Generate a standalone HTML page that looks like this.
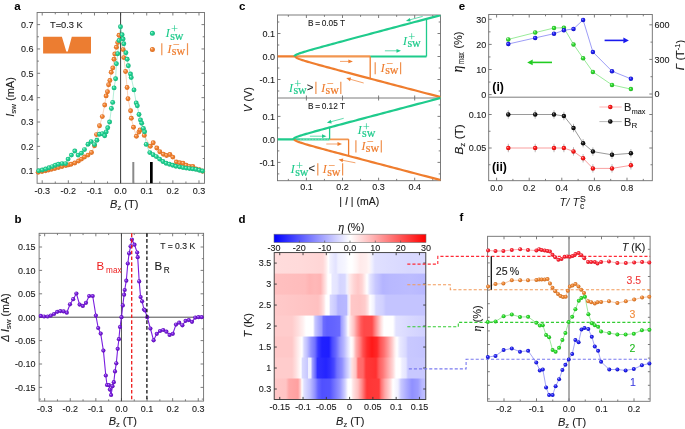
<!DOCTYPE html><html><head><meta charset="utf-8"><style>html,body{margin:0;padding:0;background:#fff;width:685px;height:429px;overflow:hidden}svg{display:block;font-family:"Liberation Sans",sans-serif;will-change:transform}.serif{font-family:"Liberation Serif",serif}</style></head><body>
<svg width="685" height="429" viewBox="0 0 685 429">
<defs>
<radialGradient id="gG" cx="0.5" cy="0.5" r="0.5" fx="0.33" fy="0.3"><stop offset="0" stop-color="#b8f7de"/><stop offset="0.45" stop-color="#22d494"/><stop offset="1" stop-color="#17b27a"/></radialGradient>
<radialGradient id="gO" cx="0.5" cy="0.5" r="0.5" fx="0.33" fy="0.3"><stop offset="0" stop-color="#fdd4b4"/><stop offset="0.45" stop-color="#f28434"/><stop offset="1" stop-color="#d96c20"/></radialGradient>
<radialGradient id="gP" cx="0.5" cy="0.5" r="0.5" fx="0.33" fy="0.3"><stop offset="0" stop-color="#c9a6f6"/><stop offset="0.45" stop-color="#7a1ee0"/><stop offset="1" stop-color="#5a0fb0"/></radialGradient>
<radialGradient id="eG" cx="0.5" cy="0.5" r="0.5" fx="0.33" fy="0.3"><stop offset="0" stop-color="#c0f8c0"/><stop offset="0.45" stop-color="#33dd33"/><stop offset="1" stop-color="#22b022"/></radialGradient>
<radialGradient id="eB" cx="0.5" cy="0.5" r="0.5" fx="0.33" fy="0.3"><stop offset="0" stop-color="#aaaaff"/><stop offset="0.45" stop-color="#2424f4"/><stop offset="1" stop-color="#1010c0"/></radialGradient>
<radialGradient id="eK" cx="0.5" cy="0.5" r="0.5" fx="0.33" fy="0.3"><stop offset="0" stop-color="#9a9a9a"/><stop offset="0.45" stop-color="#1a1a1a"/><stop offset="1" stop-color="#000000"/></radialGradient>
<radialGradient id="eR" cx="0.5" cy="0.5" r="0.5" fx="0.33" fy="0.3"><stop offset="0" stop-color="#ffb0b0"/><stop offset="0.45" stop-color="#ff1a1a"/><stop offset="1" stop-color="#d01010"/></radialGradient>
<radialGradient id="fR" cx="0.5" cy="0.5" r="0.5" fx="0.33" fy="0.3"><stop offset="0" stop-color="#ffc0c8"/><stop offset="0.45" stop-color="#ff2a36"/><stop offset="1" stop-color="#d81424"/></radialGradient>
<radialGradient id="fO" cx="0.5" cy="0.5" r="0.5" fx="0.33" fy="0.3"><stop offset="0" stop-color="#ffd0a8"/><stop offset="0.45" stop-color="#f08a3a"/><stop offset="1" stop-color="#c86a1e"/></radialGradient>
<radialGradient id="fG" cx="0.5" cy="0.5" r="0.5" fx="0.33" fy="0.3"><stop offset="0" stop-color="#b8ffb8"/><stop offset="0.45" stop-color="#2ee02e"/><stop offset="1" stop-color="#1fb01f"/></radialGradient>
<radialGradient id="fB" cx="0.5" cy="0.5" r="0.5" fx="0.33" fy="0.3"><stop offset="0" stop-color="#aaaaff"/><stop offset="0.45" stop-color="#2626f6"/><stop offset="1" stop-color="#1010c0"/></radialGradient>
<linearGradient id="hm0" gradientUnits="objectBoundingBox" x1="0" y1="0" x2="1" y2="0"><stop offset="-0.0013" stop-color="#ffdcdc"/><stop offset="0.1702" stop-color="#ffdada"/><stop offset="0.3021" stop-color="#ffd6d6"/><stop offset="0.3219" stop-color="#ffd8d8"/><stop offset="0.3417" stop-color="#ffeaea"/><stop offset="0.3575" stop-color="#ffffff"/><stop offset="0.3681" stop-color="#f2f2ff"/><stop offset="0.3945" stop-color="#e6e6ff"/><stop offset="0.4077" stop-color="#e2e2ff"/><stop offset="0.4208" stop-color="#f0f0ff"/><stop offset="0.4670" stop-color="#f6f6ff"/><stop offset="0.4934" stop-color="#ffffff"/><stop offset="0.5132" stop-color="#ffffff"/><stop offset="0.5442" stop-color="#fff4f4"/><stop offset="0.5660" stop-color="#ffeaea"/><stop offset="0.6055" stop-color="#ffeeee"/><stop offset="0.6253" stop-color="#fff6f6"/><stop offset="0.6451" stop-color="#f0f0ff"/><stop offset="0.6649" stop-color="#e0e0ff"/><stop offset="0.7639" stop-color="#dcdcff"/><stop offset="0.8958" stop-color="#d8d8ff"/><stop offset="1.0013" stop-color="#dadaff"/></linearGradient><linearGradient id="hm1" gradientUnits="objectBoundingBox" x1="0" y1="0" x2="1" y2="0"><stop offset="-0.0013" stop-color="#ffc0c0"/><stop offset="0.2032" stop-color="#ffbcbc"/><stop offset="0.2328" stop-color="#ffb4b4"/><stop offset="0.2691" stop-color="#ffb8b8"/><stop offset="0.3061" stop-color="#ffb4b4"/><stop offset="0.3219" stop-color="#ffcccc"/><stop offset="0.3417" stop-color="#ffe8e8"/><stop offset="0.3549" stop-color="#ffffff"/><stop offset="0.3747" stop-color="#ffffff"/><stop offset="0.3813" stop-color="#e8e8ff"/><stop offset="0.4142" stop-color="#e4e4ff"/><stop offset="0.4340" stop-color="#d4d4ff"/><stop offset="0.4670" stop-color="#d8d8ff"/><stop offset="0.4802" stop-color="#f0f0ff"/><stop offset="0.5000" stop-color="#ffe8e8"/><stop offset="0.5264" stop-color="#ffd4d4"/><stop offset="0.5528" stop-color="#ffc8c8"/><stop offset="0.5792" stop-color="#ffd4d4"/><stop offset="0.5989" stop-color="#ffeeee"/><stop offset="0.6121" stop-color="#ffffff"/><stop offset="0.6319" stop-color="#e4e4ff"/><stop offset="0.6682" stop-color="#c8c8ff"/><stop offset="0.7177" stop-color="#b4b4ff"/><stop offset="0.7639" stop-color="#b8b8ff"/><stop offset="0.8958" stop-color="#bcbcff"/><stop offset="1.0013" stop-color="#b8b8ff"/></linearGradient><linearGradient id="hm2" gradientUnits="objectBoundingBox" x1="0" y1="0" x2="1" y2="0"><stop offset="-0.0013" stop-color="#ffcaca"/><stop offset="0.2032" stop-color="#ffc4c4"/><stop offset="0.2889" stop-color="#ffc0c0"/><stop offset="0.3087" stop-color="#ffcccc"/><stop offset="0.3285" stop-color="#ffe4e4"/><stop offset="0.3417" stop-color="#ffffff"/><stop offset="0.3615" stop-color="#ffffff"/><stop offset="0.3714" stop-color="#d8d8ff"/><stop offset="0.4077" stop-color="#c8c8ff"/><stop offset="0.4208" stop-color="#b4b4ff"/><stop offset="0.4769" stop-color="#b8b8ff"/><stop offset="0.4868" stop-color="#e8e8ff"/><stop offset="0.5000" stop-color="#fff0f0"/><stop offset="0.5066" stop-color="#ffc8c8"/><stop offset="0.5660" stop-color="#ffc4c4"/><stop offset="0.5989" stop-color="#ffcccc"/><stop offset="0.6187" stop-color="#ffe4e4"/><stop offset="0.6319" stop-color="#ffffff"/><stop offset="0.6583" stop-color="#f0f0ff"/><stop offset="0.6715" stop-color="#d8d8ff"/><stop offset="0.7177" stop-color="#d0d0ff"/><stop offset="0.7375" stop-color="#c4c4ff"/><stop offset="1.0013" stop-color="#c4c4ff"/></linearGradient><linearGradient id="hm3" gradientUnits="objectBoundingBox" x1="0" y1="0" x2="1" y2="0"><stop offset="-0.0013" stop-color="#ffcccc"/><stop offset="0.1174" stop-color="#ffcccc"/><stop offset="0.1570" stop-color="#ffdede"/><stop offset="0.1900" stop-color="#fff0f0"/><stop offset="0.2098" stop-color="#ffffff"/><stop offset="0.2559" stop-color="#ffffff"/><stop offset="0.2691" stop-color="#c8c8ff"/><stop offset="0.2889" stop-color="#b0b0ff"/><stop offset="0.3120" stop-color="#9898ff"/><stop offset="0.3252" stop-color="#6c6cff"/><stop offset="0.3483" stop-color="#6060ff"/><stop offset="0.3945" stop-color="#6464ff"/><stop offset="0.4307" stop-color="#6a6aff"/><stop offset="0.4439" stop-color="#a0a0ff"/><stop offset="0.4670" stop-color="#c8c8ff"/><stop offset="0.4802" stop-color="#e8e8ff"/><stop offset="0.4868" stop-color="#ffffff"/><stop offset="0.5000" stop-color="#ffe8e8"/><stop offset="0.5264" stop-color="#ffc0c0"/><stop offset="0.5462" stop-color="#ff9090"/><stop offset="0.5726" stop-color="#ff5a5a"/><stop offset="0.5923" stop-color="#ff4848"/><stop offset="0.6451" stop-color="#ff4a4a"/><stop offset="0.6649" stop-color="#ff8080"/><stop offset="0.6847" stop-color="#ffb0b0"/><stop offset="0.7045" stop-color="#ffdede"/><stop offset="0.7243" stop-color="#ffffff"/><stop offset="0.7836" stop-color="#ffffff"/><stop offset="0.8034" stop-color="#e2e2ff"/><stop offset="0.8958" stop-color="#d8d8ff"/><stop offset="1.0013" stop-color="#d0d0ff"/></linearGradient><linearGradient id="hm4" gradientUnits="objectBoundingBox" x1="0" y1="0" x2="1" y2="0"><stop offset="-0.0013" stop-color="#ffc8c8"/><stop offset="0.1174" stop-color="#ffc8c8"/><stop offset="0.1438" stop-color="#ffe0e0"/><stop offset="0.1702" stop-color="#fff6f6"/><stop offset="0.1834" stop-color="#ffffff"/><stop offset="0.1966" stop-color="#d8d8ff"/><stop offset="0.2164" stop-color="#c0c0ff"/><stop offset="0.2427" stop-color="#9090ff"/><stop offset="0.2691" stop-color="#7070ff"/><stop offset="0.2889" stop-color="#3838ff"/><stop offset="0.3153" stop-color="#2020ff"/><stop offset="0.3615" stop-color="#1e1eff"/><stop offset="0.3813" stop-color="#4848ff"/><stop offset="0.4077" stop-color="#6868ff"/><stop offset="0.4340" stop-color="#9898ff"/><stop offset="0.4604" stop-color="#b8b8ff"/><stop offset="0.4868" stop-color="#e4e4ff"/><stop offset="0.5066" stop-color="#ffffff"/><stop offset="0.5198" stop-color="#fff0f0"/><stop offset="0.5396" stop-color="#ffb0b0"/><stop offset="0.5660" stop-color="#ff8080"/><stop offset="0.5858" stop-color="#ff5050"/><stop offset="0.6121" stop-color="#ff2c2c"/><stop offset="0.6451" stop-color="#ff1818"/><stop offset="0.6781" stop-color="#ff2828"/><stop offset="0.6979" stop-color="#ff5050"/><stop offset="0.7243" stop-color="#ff7070"/><stop offset="0.7507" stop-color="#ff9a9a"/><stop offset="0.7770" stop-color="#ffc8c8"/><stop offset="0.7968" stop-color="#fff0f0"/><stop offset="0.8100" stop-color="#ffffff"/><stop offset="0.8298" stop-color="#e8e8ff"/><stop offset="0.8694" stop-color="#d8d8ff"/><stop offset="0.8826" stop-color="#c8c8ff"/><stop offset="1.0013" stop-color="#c4c4ff"/></linearGradient><linearGradient id="hm5" gradientUnits="objectBoundingBox" x1="0" y1="0" x2="1" y2="0"><stop offset="-0.0013" stop-color="#ffcccc"/><stop offset="0.1174" stop-color="#ffcccc"/><stop offset="0.1438" stop-color="#ffe0e0"/><stop offset="0.1768" stop-color="#ffffff"/><stop offset="0.1867" stop-color="#d8d8ff"/><stop offset="0.2197" stop-color="#c8c8ff"/><stop offset="0.2263" stop-color="#f0f0ff"/><stop offset="0.2427" stop-color="#f0f0ff"/><stop offset="0.2493" stop-color="#a8a8ff"/><stop offset="0.2724" stop-color="#6868ff"/><stop offset="0.2856" stop-color="#3030ff"/><stop offset="0.3417" stop-color="#2424ff"/><stop offset="0.3681" stop-color="#3030ff"/><stop offset="0.3945" stop-color="#4848ff"/><stop offset="0.4142" stop-color="#7070ff"/><stop offset="0.4472" stop-color="#9090ff"/><stop offset="0.4736" stop-color="#c0c0ff"/><stop offset="0.5000" stop-color="#e8e8ff"/><stop offset="0.5132" stop-color="#ffe0e0"/><stop offset="0.5396" stop-color="#ffc0c0"/><stop offset="0.5528" stop-color="#ff7070"/><stop offset="0.5858" stop-color="#ff6868"/><stop offset="0.6055" stop-color="#ff3838"/><stop offset="0.6715" stop-color="#ff3030"/><stop offset="0.6913" stop-color="#ff5c5c"/><stop offset="0.7177" stop-color="#ff7878"/><stop offset="0.7441" stop-color="#ffa0a0"/><stop offset="0.7836" stop-color="#ffd8d8"/><stop offset="0.8034" stop-color="#ffffff"/><stop offset="0.8298" stop-color="#ffffff"/><stop offset="0.8430" stop-color="#eeeeff"/><stop offset="0.8694" stop-color="#e4e4ff"/><stop offset="0.8826" stop-color="#c8c8ff"/><stop offset="1.0013" stop-color="#c8c8ff"/></linearGradient><linearGradient id="hm6" gradientUnits="objectBoundingBox" x1="0" y1="0" x2="1" y2="0"><stop offset="-0.0013" stop-color="#ffc8c8"/><stop offset="0.0778" stop-color="#ffc4c4"/><stop offset="0.0976" stop-color="#ffa8a8"/><stop offset="0.1570" stop-color="#ffa0a0"/><stop offset="0.1735" stop-color="#ffd0d0"/><stop offset="0.1834" stop-color="#ffffff"/><stop offset="0.1966" stop-color="#e0e0ff"/><stop offset="0.2361" stop-color="#c0c0ff"/><stop offset="0.2691" stop-color="#9090ff"/><stop offset="0.2889" stop-color="#6464ff"/><stop offset="0.3153" stop-color="#5050ff"/><stop offset="0.3681" stop-color="#5454ff"/><stop offset="0.3945" stop-color="#7070ff"/><stop offset="0.4340" stop-color="#9898ff"/><stop offset="0.4670" stop-color="#d0d0ff"/><stop offset="0.4868" stop-color="#ffffff"/><stop offset="0.5066" stop-color="#ffffff"/><stop offset="0.5198" stop-color="#ffe4e4"/><stop offset="0.5528" stop-color="#ffc0c0"/><stop offset="0.5792" stop-color="#ff8888"/><stop offset="0.6022" stop-color="#ff4c4c"/><stop offset="0.6121" stop-color="#ff3636"/><stop offset="0.6913" stop-color="#ff3a3a"/><stop offset="0.7045" stop-color="#ff7070"/><stop offset="0.7309" stop-color="#ffa8a8"/><stop offset="0.7639" stop-color="#ffd8d8"/><stop offset="0.7836" stop-color="#ffffff"/><stop offset="0.8166" stop-color="#f0f0ff"/><stop offset="0.8364" stop-color="#c8c8ff"/><stop offset="0.8760" stop-color="#a8a8ff"/><stop offset="0.9090" stop-color="#9090ff"/><stop offset="0.9485" stop-color="#9c9cff"/><stop offset="0.9749" stop-color="#b8b8ff"/><stop offset="1.0013" stop-color="#c0c0ff"/></linearGradient><linearGradient id="cbar" x1="0" y1="0" x2="1" y2="0"><stop offset="0" stop-color="#0000ff"/><stop offset="0.5" stop-color="#ffffff"/><stop offset="1" stop-color="#ff0000"/></linearGradient>
</defs>
<rect width="685" height="429" fill="#fff"/>
<text x="14.2" y="10.4" font-size="11.5" font-weight="bold" fill="#000">a</text>
<rect x="37.1" y="12.5" width="167.4" height="170.8" fill="none" stroke="#6e6e6e" stroke-width="0.9" />
<line x1="42.21" y1="183.3" x2="42.21" y2="180.3" stroke="#6e6e6e" stroke-width="0.9" />
<line x1="42.21" y1="12.5" x2="42.21" y2="15.5" stroke="#6e6e6e" stroke-width="0.9" />
<line x1="68.34" y1="183.3" x2="68.34" y2="180.3" stroke="#6e6e6e" stroke-width="0.9" />
<line x1="68.34" y1="12.5" x2="68.34" y2="15.5" stroke="#6e6e6e" stroke-width="0.9" />
<line x1="94.47" y1="183.3" x2="94.47" y2="180.3" stroke="#6e6e6e" stroke-width="0.9" />
<line x1="94.47" y1="12.5" x2="94.47" y2="15.5" stroke="#6e6e6e" stroke-width="0.9" />
<line x1="120.6" y1="183.3" x2="120.6" y2="180.3" stroke="#6e6e6e" stroke-width="0.9" />
<line x1="120.6" y1="12.5" x2="120.6" y2="15.5" stroke="#6e6e6e" stroke-width="0.9" />
<line x1="146.73" y1="183.3" x2="146.73" y2="180.3" stroke="#6e6e6e" stroke-width="0.9" />
<line x1="146.73" y1="12.5" x2="146.73" y2="15.5" stroke="#6e6e6e" stroke-width="0.9" />
<line x1="172.86" y1="183.3" x2="172.86" y2="180.3" stroke="#6e6e6e" stroke-width="0.9" />
<line x1="172.86" y1="12.5" x2="172.86" y2="15.5" stroke="#6e6e6e" stroke-width="0.9" />
<line x1="198.99" y1="183.3" x2="198.99" y2="180.3" stroke="#6e6e6e" stroke-width="0.9" />
<line x1="198.99" y1="12.5" x2="198.99" y2="15.5" stroke="#6e6e6e" stroke-width="0.9" />
<line x1="55.27" y1="183.3" x2="55.27" y2="181.5" stroke="#6e6e6e" stroke-width="0.9" />
<line x1="55.27" y1="12.5" x2="55.27" y2="14.3" stroke="#6e6e6e" stroke-width="0.9" />
<line x1="81.41" y1="183.3" x2="81.41" y2="181.5" stroke="#6e6e6e" stroke-width="0.9" />
<line x1="81.41" y1="12.5" x2="81.41" y2="14.3" stroke="#6e6e6e" stroke-width="0.9" />
<line x1="107.53" y1="183.3" x2="107.53" y2="181.5" stroke="#6e6e6e" stroke-width="0.9" />
<line x1="107.53" y1="12.5" x2="107.53" y2="14.3" stroke="#6e6e6e" stroke-width="0.9" />
<line x1="133.66" y1="183.3" x2="133.66" y2="181.5" stroke="#6e6e6e" stroke-width="0.9" />
<line x1="133.66" y1="12.5" x2="133.66" y2="14.3" stroke="#6e6e6e" stroke-width="0.9" />
<line x1="159.79" y1="183.3" x2="159.79" y2="181.5" stroke="#6e6e6e" stroke-width="0.9" />
<line x1="159.79" y1="12.5" x2="159.79" y2="14.3" stroke="#6e6e6e" stroke-width="0.9" />
<line x1="185.93" y1="183.3" x2="185.93" y2="181.5" stroke="#6e6e6e" stroke-width="0.9" />
<line x1="185.93" y1="12.5" x2="185.93" y2="14.3" stroke="#6e6e6e" stroke-width="0.9" />
<line x1="37.1" y1="170.7" x2="40.1" y2="170.7" stroke="#6e6e6e" stroke-width="0.9" />
<line x1="204.5" y1="170.7" x2="201.5" y2="170.7" stroke="#6e6e6e" stroke-width="0.9" />
<line x1="37.1" y1="146.35" x2="40.1" y2="146.35" stroke="#6e6e6e" stroke-width="0.9" />
<line x1="204.5" y1="146.35" x2="201.5" y2="146.35" stroke="#6e6e6e" stroke-width="0.9" />
<line x1="37.1" y1="122" x2="40.1" y2="122" stroke="#6e6e6e" stroke-width="0.9" />
<line x1="204.5" y1="122" x2="201.5" y2="122" stroke="#6e6e6e" stroke-width="0.9" />
<line x1="37.1" y1="97.65" x2="40.1" y2="97.65" stroke="#6e6e6e" stroke-width="0.9" />
<line x1="204.5" y1="97.65" x2="201.5" y2="97.65" stroke="#6e6e6e" stroke-width="0.9" />
<line x1="37.1" y1="73.3" x2="40.1" y2="73.3" stroke="#6e6e6e" stroke-width="0.9" />
<line x1="204.5" y1="73.3" x2="201.5" y2="73.3" stroke="#6e6e6e" stroke-width="0.9" />
<line x1="37.1" y1="48.95" x2="40.1" y2="48.95" stroke="#6e6e6e" stroke-width="0.9" />
<line x1="204.5" y1="48.95" x2="201.5" y2="48.95" stroke="#6e6e6e" stroke-width="0.9" />
<line x1="37.1" y1="24.6" x2="40.1" y2="24.6" stroke="#6e6e6e" stroke-width="0.9" />
<line x1="204.5" y1="24.6" x2="201.5" y2="24.6" stroke="#6e6e6e" stroke-width="0.9" />
<line x1="37.1" y1="158.52" x2="38.9" y2="158.52" stroke="#6e6e6e" stroke-width="0.9" />
<line x1="204.5" y1="158.52" x2="202.7" y2="158.52" stroke="#6e6e6e" stroke-width="0.9" />
<line x1="37.1" y1="134.17" x2="38.9" y2="134.17" stroke="#6e6e6e" stroke-width="0.9" />
<line x1="204.5" y1="134.17" x2="202.7" y2="134.17" stroke="#6e6e6e" stroke-width="0.9" />
<line x1="37.1" y1="109.82" x2="38.9" y2="109.82" stroke="#6e6e6e" stroke-width="0.9" />
<line x1="204.5" y1="109.82" x2="202.7" y2="109.82" stroke="#6e6e6e" stroke-width="0.9" />
<line x1="37.1" y1="85.47" x2="38.9" y2="85.47" stroke="#6e6e6e" stroke-width="0.9" />
<line x1="204.5" y1="85.47" x2="202.7" y2="85.47" stroke="#6e6e6e" stroke-width="0.9" />
<line x1="37.1" y1="61.12" x2="38.9" y2="61.12" stroke="#6e6e6e" stroke-width="0.9" />
<line x1="204.5" y1="61.12" x2="202.7" y2="61.12" stroke="#6e6e6e" stroke-width="0.9" />
<line x1="37.1" y1="36.77" x2="38.9" y2="36.77" stroke="#6e6e6e" stroke-width="0.9" />
<line x1="204.5" y1="36.77" x2="202.7" y2="36.77" stroke="#6e6e6e" stroke-width="0.9" />
<text x="33.6" y="174" font-size="9.0" text-anchor="end" fill="#1a1a1a" stroke="#1a1a1a" stroke-width="0.1" >0.1</text>
<text x="33.6" y="149.65" font-size="9.0" text-anchor="end" fill="#1a1a1a" stroke="#1a1a1a" stroke-width="0.1" >0.2</text>
<text x="33.6" y="125.3" font-size="9.0" text-anchor="end" fill="#1a1a1a" stroke="#1a1a1a" stroke-width="0.1" >0.3</text>
<text x="33.6" y="100.95" font-size="9.0" text-anchor="end" fill="#1a1a1a" stroke="#1a1a1a" stroke-width="0.1" >0.4</text>
<text x="33.6" y="76.6" font-size="9.0" text-anchor="end" fill="#1a1a1a" stroke="#1a1a1a" stroke-width="0.1" >0.5</text>
<text x="33.6" y="52.25" font-size="9.0" text-anchor="end" fill="#1a1a1a" stroke="#1a1a1a" stroke-width="0.1" >0.6</text>
<text x="33.6" y="27.9" font-size="9.0" text-anchor="end" fill="#1a1a1a" stroke="#1a1a1a" stroke-width="0.1" >0.7</text>
<text x="42.21" y="193.8" font-size="9.0" text-anchor="middle" fill="#1a1a1a" stroke="#1a1a1a" stroke-width="0.1" >-0.3</text>
<text x="68.34" y="193.8" font-size="9.0" text-anchor="middle" fill="#1a1a1a" stroke="#1a1a1a" stroke-width="0.1" >-0.2</text>
<text x="94.47" y="193.8" font-size="9.0" text-anchor="middle" fill="#1a1a1a" stroke="#1a1a1a" stroke-width="0.1" >-0.1</text>
<text x="120.6" y="193.8" font-size="9.0" text-anchor="middle" fill="#1a1a1a" stroke="#1a1a1a" stroke-width="0.1" >0.0</text>
<text x="146.73" y="193.8" font-size="9.0" text-anchor="middle" fill="#1a1a1a" stroke="#1a1a1a" stroke-width="0.1" >0.1</text>
<text x="172.86" y="193.8" font-size="9.0" text-anchor="middle" fill="#1a1a1a" stroke="#1a1a1a" stroke-width="0.1" >0.2</text>
<text x="198.99" y="193.8" font-size="9.0" text-anchor="middle" fill="#1a1a1a" stroke="#1a1a1a" stroke-width="0.1" >0.3</text>
<line x1="120.6" y1="12.5" x2="120.6" y2="183.3" stroke="#3a3a3a" stroke-width="1.0" />
<polygon points="43.1,36.8 61.9,36.8 66.3,51.4 67.8,51.4 71.8,36.8 91,36.8 91,53.5 43.1,53.5" fill="#ec7d31"/>
<text x="50" y="27.8" font-size="9.3" text-anchor="start" fill="#1a1a1a" stroke="#1a1a1a" stroke-width="0.1" >T=0.3 K</text>
<rect x="132.3" y="162" width="2" height="21.2" fill="#8a8a8a" stroke="none" stroke-width="0" />
<rect x="150" y="162" width="2.7" height="21.2" fill="#000" stroke="none" stroke-width="0" />
<polyline points="38.7,170.8 42.3,170 45.7,169 49.1,167.8 52.4,166.6 55.4,165.2 58.4,164.2 62.1,163.6 65.6,163.6 68.1,159.1 71.4,155.1 74.8,151 78.1,155.1 81.5,153.1 84.5,149.6 88,144.2 91.2,141.6 94.5,144.6 96.9,140.2 99.5,134.2 102.4,133.7 104.7,135.7 106.2,131.9 107.7,127.8 109.6,122 111.4,108.5 112.7,102.4 114.1,87.9 115.6,78.8 116.4,63.8 117.7,53.7 119,40.5 120.5,26.8 122.1,34.8 123.1,38.9 123.8,43.8 125.9,52.7 127.2,59.3 128.3,65.8 130.5,74 131.2,77.5 134,89.9 136.2,102.9 137.3,105.7 139,114.5 140.5,119.9 141.7,123.2 143.4,128.4 144.6,131.8 146.2,144.4 149.8,152.6 153.1,154.7 156.3,156.6 159.6,159.1 162.9,161.5 166.1,163.2 169.4,164.3 172.7,165.3 175.9,166.3 179.7,166.9 183,167.6 186.2,168.1 189.5,168.6 192.8,168.9 196,169.4 199.3,170.2 202.6,171" fill="none" stroke="#7fe3bd" stroke-width="0.6" stroke-linejoin="round" />
<polyline points="38.2,172.3 42,171.5 45.5,170.8 48.5,170 51.5,169.3 54.8,168.5 58.4,167.5 62,166.5 65.9,165.5 68.5,164.9 71.1,164.2 74.8,163 78.5,161 81.5,159.1 84.5,157 88,155.1 91.5,152.5 94.5,145.7 96.5,134.6 99.5,125.7 102.3,116.6 104.7,105 106.1,95.9 107.5,91.7 108.6,84.7 109.9,80.5 111.2,72.3 112.8,67.9 114,59.3 114.8,54 116.4,47.2 117.7,42.6 119,35.3 123.1,49.6 123.8,57.6 125.6,71.5 127.1,87.5 128,98.7 130.6,110.8 131.3,118.3 133.5,127.2 136.4,136.2 138.9,132.1 140,130 144.3,135.4 150.3,146.3 153.2,142.8 156.8,148 159.8,151.7 163.4,154.2 166.6,155.5 169.9,154.5 172.8,157.1 176.4,162 179.7,162.8 183,163.2 186.2,165.3 189.5,166.4 192.8,166.4 196,168.9 199.3,169.7 202.6,171.3" fill="none" stroke="#f6b891" stroke-width="0.6" stroke-linejoin="round" />
<circle cx="38.2" cy="172.3" r="2.45" fill="url(#gO)"/>
<circle cx="42" cy="171.5" r="2.45" fill="url(#gO)"/>
<circle cx="45.5" cy="170.8" r="2.45" fill="url(#gO)"/>
<circle cx="48.5" cy="170" r="2.45" fill="url(#gO)"/>
<circle cx="51.5" cy="169.3" r="2.45" fill="url(#gO)"/>
<circle cx="54.8" cy="168.5" r="2.45" fill="url(#gO)"/>
<circle cx="58.4" cy="167.5" r="2.45" fill="url(#gO)"/>
<circle cx="62" cy="166.5" r="2.45" fill="url(#gO)"/>
<circle cx="65.9" cy="165.5" r="2.45" fill="url(#gO)"/>
<circle cx="68.5" cy="164.9" r="2.45" fill="url(#gO)"/>
<circle cx="71.1" cy="164.2" r="2.45" fill="url(#gO)"/>
<circle cx="74.8" cy="163" r="2.45" fill="url(#gO)"/>
<circle cx="78.5" cy="161" r="2.45" fill="url(#gO)"/>
<circle cx="81.5" cy="159.1" r="2.45" fill="url(#gO)"/>
<circle cx="84.5" cy="157" r="2.45" fill="url(#gO)"/>
<circle cx="88" cy="155.1" r="2.45" fill="url(#gO)"/>
<circle cx="91.5" cy="152.5" r="2.45" fill="url(#gO)"/>
<circle cx="94.5" cy="145.7" r="2.45" fill="url(#gO)"/>
<circle cx="96.5" cy="134.6" r="2.45" fill="url(#gO)"/>
<circle cx="99.5" cy="125.7" r="2.45" fill="url(#gO)"/>
<circle cx="102.3" cy="116.6" r="2.45" fill="url(#gO)"/>
<circle cx="104.7" cy="105" r="2.45" fill="url(#gO)"/>
<circle cx="106.1" cy="95.9" r="2.45" fill="url(#gO)"/>
<circle cx="107.5" cy="91.7" r="2.45" fill="url(#gO)"/>
<circle cx="108.6" cy="84.7" r="2.45" fill="url(#gO)"/>
<circle cx="109.9" cy="80.5" r="2.45" fill="url(#gO)"/>
<circle cx="111.2" cy="72.3" r="2.45" fill="url(#gO)"/>
<circle cx="112.8" cy="67.9" r="2.45" fill="url(#gO)"/>
<circle cx="114" cy="59.3" r="2.45" fill="url(#gO)"/>
<circle cx="114.8" cy="54" r="2.45" fill="url(#gO)"/>
<circle cx="116.4" cy="47.2" r="2.45" fill="url(#gO)"/>
<circle cx="117.7" cy="42.6" r="2.45" fill="url(#gO)"/>
<circle cx="119" cy="35.3" r="2.45" fill="url(#gO)"/>
<circle cx="123.1" cy="49.6" r="2.45" fill="url(#gO)"/>
<circle cx="123.8" cy="57.6" r="2.45" fill="url(#gO)"/>
<circle cx="125.6" cy="71.5" r="2.45" fill="url(#gO)"/>
<circle cx="127.1" cy="87.5" r="2.45" fill="url(#gO)"/>
<circle cx="128" cy="98.7" r="2.45" fill="url(#gO)"/>
<circle cx="130.6" cy="110.8" r="2.45" fill="url(#gO)"/>
<circle cx="131.3" cy="118.3" r="2.45" fill="url(#gO)"/>
<circle cx="133.5" cy="127.2" r="2.45" fill="url(#gO)"/>
<circle cx="136.4" cy="136.2" r="2.45" fill="url(#gO)"/>
<circle cx="138.9" cy="132.1" r="2.45" fill="url(#gO)"/>
<circle cx="140" cy="130" r="2.45" fill="url(#gO)"/>
<circle cx="144.3" cy="135.4" r="2.45" fill="url(#gO)"/>
<circle cx="150.3" cy="146.3" r="2.45" fill="url(#gO)"/>
<circle cx="153.2" cy="142.8" r="2.45" fill="url(#gO)"/>
<circle cx="156.8" cy="148" r="2.45" fill="url(#gO)"/>
<circle cx="159.8" cy="151.7" r="2.45" fill="url(#gO)"/>
<circle cx="163.4" cy="154.2" r="2.45" fill="url(#gO)"/>
<circle cx="166.6" cy="155.5" r="2.45" fill="url(#gO)"/>
<circle cx="169.9" cy="154.5" r="2.45" fill="url(#gO)"/>
<circle cx="172.8" cy="157.1" r="2.45" fill="url(#gO)"/>
<circle cx="176.4" cy="162" r="2.45" fill="url(#gO)"/>
<circle cx="179.7" cy="162.8" r="2.45" fill="url(#gO)"/>
<circle cx="183" cy="163.2" r="2.45" fill="url(#gO)"/>
<circle cx="186.2" cy="165.3" r="2.45" fill="url(#gO)"/>
<circle cx="189.5" cy="166.4" r="2.45" fill="url(#gO)"/>
<circle cx="192.8" cy="166.4" r="2.45" fill="url(#gO)"/>
<circle cx="196" cy="168.9" r="2.45" fill="url(#gO)"/>
<circle cx="199.3" cy="169.7" r="2.45" fill="url(#gO)"/>
<circle cx="202.6" cy="171.3" r="2.45" fill="url(#gO)"/>
<circle cx="38.7" cy="170.8" r="2.45" fill="url(#gG)"/>
<circle cx="42.3" cy="170" r="2.45" fill="url(#gG)"/>
<circle cx="45.7" cy="169" r="2.45" fill="url(#gG)"/>
<circle cx="49.1" cy="167.8" r="2.45" fill="url(#gG)"/>
<circle cx="52.4" cy="166.6" r="2.45" fill="url(#gG)"/>
<circle cx="55.4" cy="165.2" r="2.45" fill="url(#gG)"/>
<circle cx="58.4" cy="164.2" r="2.45" fill="url(#gG)"/>
<circle cx="62.1" cy="163.6" r="2.45" fill="url(#gG)"/>
<circle cx="65.6" cy="163.6" r="2.45" fill="url(#gG)"/>
<circle cx="68.1" cy="159.1" r="2.45" fill="url(#gG)"/>
<circle cx="71.4" cy="155.1" r="2.45" fill="url(#gG)"/>
<circle cx="74.8" cy="151" r="2.45" fill="url(#gG)"/>
<circle cx="78.1" cy="155.1" r="2.45" fill="url(#gG)"/>
<circle cx="81.5" cy="153.1" r="2.45" fill="url(#gG)"/>
<circle cx="84.5" cy="149.6" r="2.45" fill="url(#gG)"/>
<circle cx="88" cy="144.2" r="2.45" fill="url(#gG)"/>
<circle cx="91.2" cy="141.6" r="2.45" fill="url(#gG)"/>
<circle cx="94.5" cy="144.6" r="2.45" fill="url(#gG)"/>
<circle cx="96.9" cy="140.2" r="2.45" fill="url(#gG)"/>
<circle cx="99.5" cy="134.2" r="2.45" fill="url(#gG)"/>
<circle cx="102.4" cy="133.7" r="2.45" fill="url(#gG)"/>
<circle cx="104.7" cy="135.7" r="2.45" fill="url(#gG)"/>
<circle cx="106.2" cy="131.9" r="2.45" fill="url(#gG)"/>
<circle cx="107.7" cy="127.8" r="2.45" fill="url(#gG)"/>
<circle cx="109.6" cy="122" r="2.45" fill="url(#gG)"/>
<circle cx="111.4" cy="108.5" r="2.45" fill="url(#gG)"/>
<circle cx="112.7" cy="102.4" r="2.45" fill="url(#gG)"/>
<circle cx="114.1" cy="87.9" r="2.45" fill="url(#gG)"/>
<circle cx="115.6" cy="78.8" r="2.45" fill="url(#gG)"/>
<circle cx="116.4" cy="63.8" r="2.45" fill="url(#gG)"/>
<circle cx="117.7" cy="53.7" r="2.45" fill="url(#gG)"/>
<circle cx="119" cy="40.5" r="2.45" fill="url(#gG)"/>
<circle cx="120.5" cy="26.8" r="2.45" fill="url(#gG)"/>
<circle cx="122.1" cy="34.8" r="2.45" fill="url(#gG)"/>
<circle cx="123.1" cy="38.9" r="2.45" fill="url(#gG)"/>
<circle cx="123.8" cy="43.8" r="2.45" fill="url(#gG)"/>
<circle cx="125.9" cy="52.7" r="2.45" fill="url(#gG)"/>
<circle cx="127.2" cy="59.3" r="2.45" fill="url(#gG)"/>
<circle cx="128.3" cy="65.8" r="2.45" fill="url(#gG)"/>
<circle cx="130.5" cy="74" r="2.45" fill="url(#gG)"/>
<circle cx="131.2" cy="77.5" r="2.45" fill="url(#gG)"/>
<circle cx="134" cy="89.9" r="2.45" fill="url(#gG)"/>
<circle cx="136.2" cy="102.9" r="2.45" fill="url(#gG)"/>
<circle cx="137.3" cy="105.7" r="2.45" fill="url(#gG)"/>
<circle cx="139" cy="114.5" r="2.45" fill="url(#gG)"/>
<circle cx="140.5" cy="119.9" r="2.45" fill="url(#gG)"/>
<circle cx="141.7" cy="123.2" r="2.45" fill="url(#gG)"/>
<circle cx="143.4" cy="128.4" r="2.45" fill="url(#gG)"/>
<circle cx="144.6" cy="131.8" r="2.45" fill="url(#gG)"/>
<circle cx="146.2" cy="144.4" r="2.45" fill="url(#gG)"/>
<circle cx="149.8" cy="152.6" r="2.45" fill="url(#gG)"/>
<circle cx="153.1" cy="154.7" r="2.45" fill="url(#gG)"/>
<circle cx="156.3" cy="156.6" r="2.45" fill="url(#gG)"/>
<circle cx="159.6" cy="159.1" r="2.45" fill="url(#gG)"/>
<circle cx="162.9" cy="161.5" r="2.45" fill="url(#gG)"/>
<circle cx="166.1" cy="163.2" r="2.45" fill="url(#gG)"/>
<circle cx="169.4" cy="164.3" r="2.45" fill="url(#gG)"/>
<circle cx="172.7" cy="165.3" r="2.45" fill="url(#gG)"/>
<circle cx="175.9" cy="166.3" r="2.45" fill="url(#gG)"/>
<circle cx="179.7" cy="166.9" r="2.45" fill="url(#gG)"/>
<circle cx="183" cy="167.6" r="2.45" fill="url(#gG)"/>
<circle cx="186.2" cy="168.1" r="2.45" fill="url(#gG)"/>
<circle cx="189.5" cy="168.6" r="2.45" fill="url(#gG)"/>
<circle cx="192.8" cy="168.9" r="2.45" fill="url(#gG)"/>
<circle cx="196" cy="169.4" r="2.45" fill="url(#gG)"/>
<circle cx="199.3" cy="170.2" r="2.45" fill="url(#gG)"/>
<circle cx="202.6" cy="171" r="2.45" fill="url(#gG)"/>
<circle cx="152.4" cy="33.3" r="2.5" fill="url(#gG)"/>
<circle cx="152.4" cy="49.5" r="2.5" fill="url(#gO)"/>
<g class="serif" fill="#1fcb8c" font-style="italic">
<text x="165.6" y="36.9" font-size="13.2">I</text>
<text x="170.2" y="39.6" font-size="12" font-style="normal" stroke="#1fcb8c" stroke-width="0.2">sw</text>
<text x="171" y="33.4" font-size="12.5" font-style="normal">+</text>
</g>
<line x1="161.8" y1="43.2" x2="161.8" y2="55.2" stroke="#f0914e" stroke-width="1.2" />
<g class="serif" fill="#ef7d2e" font-style="italic">
<text x="167.2" y="52.5" font-size="13.2">I</text>
<text x="171.8" y="55.2" font-size="12" font-style="normal" stroke="#ef7d2e" stroke-width="0.2">sw</text>
<text x="172.6" y="49" font-size="12.5" font-style="normal">&#8722;</text>
</g>
<line x1="187.5" y1="43.2" x2="187.5" y2="55.2" stroke="#f0914e" stroke-width="1.2" />
<text transform="translate(14.1,97) rotate(-90)" font-size="11" text-anchor="middle" fill="#1a1a1a" stroke="#1a1a1a" stroke-width="0.1"><tspan font-style="italic">I</tspan><tspan font-size="8" dy="2">sw</tspan><tspan dy="-2"> (mA)</tspan></text>
<text x="110.1" y="207.6" font-size="11" fill="#1a1a1a" stroke="#1a1a1a" stroke-width="0.1"><tspan font-style="italic">B</tspan><tspan font-size="7.5" dy="2.2">z</tspan><tspan dy="-2.2"> (T)</tspan></text>
<text x="14.4" y="222.8" font-size="11.5" font-weight="bold" fill="#000">b</text>
<rect x="39.1" y="233.3" width="164.5" height="167.8" fill="none" stroke="#6e6e6e" stroke-width="0.9" />
<line x1="44.65" y1="401.1" x2="44.65" y2="398.1" stroke="#6e6e6e" stroke-width="0.9" />
<line x1="44.65" y1="233.3" x2="44.65" y2="236.3" stroke="#6e6e6e" stroke-width="0.9" />
<line x1="70.25" y1="401.1" x2="70.25" y2="398.1" stroke="#6e6e6e" stroke-width="0.9" />
<line x1="70.25" y1="233.3" x2="70.25" y2="236.3" stroke="#6e6e6e" stroke-width="0.9" />
<line x1="95.85" y1="401.1" x2="95.85" y2="398.1" stroke="#6e6e6e" stroke-width="0.9" />
<line x1="95.85" y1="233.3" x2="95.85" y2="236.3" stroke="#6e6e6e" stroke-width="0.9" />
<line x1="121.45" y1="401.1" x2="121.45" y2="398.1" stroke="#6e6e6e" stroke-width="0.9" />
<line x1="121.45" y1="233.3" x2="121.45" y2="236.3" stroke="#6e6e6e" stroke-width="0.9" />
<line x1="147.05" y1="401.1" x2="147.05" y2="398.1" stroke="#6e6e6e" stroke-width="0.9" />
<line x1="147.05" y1="233.3" x2="147.05" y2="236.3" stroke="#6e6e6e" stroke-width="0.9" />
<line x1="172.65" y1="401.1" x2="172.65" y2="398.1" stroke="#6e6e6e" stroke-width="0.9" />
<line x1="172.65" y1="233.3" x2="172.65" y2="236.3" stroke="#6e6e6e" stroke-width="0.9" />
<line x1="198.25" y1="401.1" x2="198.25" y2="398.1" stroke="#6e6e6e" stroke-width="0.9" />
<line x1="198.25" y1="233.3" x2="198.25" y2="236.3" stroke="#6e6e6e" stroke-width="0.9" />
<line x1="57.45" y1="401.1" x2="57.45" y2="399.3" stroke="#6e6e6e" stroke-width="0.9" />
<line x1="57.45" y1="233.3" x2="57.45" y2="235.1" stroke="#6e6e6e" stroke-width="0.9" />
<line x1="83.05" y1="401.1" x2="83.05" y2="399.3" stroke="#6e6e6e" stroke-width="0.9" />
<line x1="83.05" y1="233.3" x2="83.05" y2="235.1" stroke="#6e6e6e" stroke-width="0.9" />
<line x1="108.65" y1="401.1" x2="108.65" y2="399.3" stroke="#6e6e6e" stroke-width="0.9" />
<line x1="108.65" y1="233.3" x2="108.65" y2="235.1" stroke="#6e6e6e" stroke-width="0.9" />
<line x1="134.25" y1="401.1" x2="134.25" y2="399.3" stroke="#6e6e6e" stroke-width="0.9" />
<line x1="134.25" y1="233.3" x2="134.25" y2="235.1" stroke="#6e6e6e" stroke-width="0.9" />
<line x1="159.85" y1="401.1" x2="159.85" y2="399.3" stroke="#6e6e6e" stroke-width="0.9" />
<line x1="159.85" y1="233.3" x2="159.85" y2="235.1" stroke="#6e6e6e" stroke-width="0.9" />
<line x1="185.45" y1="401.1" x2="185.45" y2="399.3" stroke="#6e6e6e" stroke-width="0.9" />
<line x1="185.45" y1="233.3" x2="185.45" y2="235.1" stroke="#6e6e6e" stroke-width="0.9" />
<line x1="39.1" y1="387.4" x2="42.1" y2="387.4" stroke="#6e6e6e" stroke-width="0.9" />
<line x1="203.6" y1="387.4" x2="200.6" y2="387.4" stroke="#6e6e6e" stroke-width="0.9" />
<line x1="39.1" y1="364" x2="42.1" y2="364" stroke="#6e6e6e" stroke-width="0.9" />
<line x1="203.6" y1="364" x2="200.6" y2="364" stroke="#6e6e6e" stroke-width="0.9" />
<line x1="39.1" y1="340.6" x2="42.1" y2="340.6" stroke="#6e6e6e" stroke-width="0.9" />
<line x1="203.6" y1="340.6" x2="200.6" y2="340.6" stroke="#6e6e6e" stroke-width="0.9" />
<line x1="39.1" y1="317.2" x2="42.1" y2="317.2" stroke="#6e6e6e" stroke-width="0.9" />
<line x1="203.6" y1="317.2" x2="200.6" y2="317.2" stroke="#6e6e6e" stroke-width="0.9" />
<line x1="39.1" y1="293.8" x2="42.1" y2="293.8" stroke="#6e6e6e" stroke-width="0.9" />
<line x1="203.6" y1="293.8" x2="200.6" y2="293.8" stroke="#6e6e6e" stroke-width="0.9" />
<line x1="39.1" y1="270.4" x2="42.1" y2="270.4" stroke="#6e6e6e" stroke-width="0.9" />
<line x1="203.6" y1="270.4" x2="200.6" y2="270.4" stroke="#6e6e6e" stroke-width="0.9" />
<line x1="39.1" y1="247" x2="42.1" y2="247" stroke="#6e6e6e" stroke-width="0.9" />
<line x1="203.6" y1="247" x2="200.6" y2="247" stroke="#6e6e6e" stroke-width="0.9" />
<line x1="39.1" y1="399.1" x2="40.9" y2="399.1" stroke="#6e6e6e" stroke-width="0.9" />
<line x1="203.6" y1="399.1" x2="201.8" y2="399.1" stroke="#6e6e6e" stroke-width="0.9" />
<line x1="39.1" y1="375.7" x2="40.9" y2="375.7" stroke="#6e6e6e" stroke-width="0.9" />
<line x1="203.6" y1="375.7" x2="201.8" y2="375.7" stroke="#6e6e6e" stroke-width="0.9" />
<line x1="39.1" y1="352.3" x2="40.9" y2="352.3" stroke="#6e6e6e" stroke-width="0.9" />
<line x1="203.6" y1="352.3" x2="201.8" y2="352.3" stroke="#6e6e6e" stroke-width="0.9" />
<line x1="39.1" y1="328.9" x2="40.9" y2="328.9" stroke="#6e6e6e" stroke-width="0.9" />
<line x1="203.6" y1="328.9" x2="201.8" y2="328.9" stroke="#6e6e6e" stroke-width="0.9" />
<line x1="39.1" y1="305.5" x2="40.9" y2="305.5" stroke="#6e6e6e" stroke-width="0.9" />
<line x1="203.6" y1="305.5" x2="201.8" y2="305.5" stroke="#6e6e6e" stroke-width="0.9" />
<line x1="39.1" y1="282.1" x2="40.9" y2="282.1" stroke="#6e6e6e" stroke-width="0.9" />
<line x1="203.6" y1="282.1" x2="201.8" y2="282.1" stroke="#6e6e6e" stroke-width="0.9" />
<line x1="39.1" y1="258.7" x2="40.9" y2="258.7" stroke="#6e6e6e" stroke-width="0.9" />
<line x1="203.6" y1="258.7" x2="201.8" y2="258.7" stroke="#6e6e6e" stroke-width="0.9" />
<line x1="39.1" y1="235.3" x2="40.9" y2="235.3" stroke="#6e6e6e" stroke-width="0.9" />
<line x1="203.6" y1="235.3" x2="201.8" y2="235.3" stroke="#6e6e6e" stroke-width="0.9" />
<text x="35.6" y="390.7" font-size="9.0" text-anchor="end" fill="#1a1a1a" stroke="#1a1a1a" stroke-width="0.1" >-0.15</text>
<text x="35.6" y="367.3" font-size="9.0" text-anchor="end" fill="#1a1a1a" stroke="#1a1a1a" stroke-width="0.1" >-0.10</text>
<text x="35.6" y="343.9" font-size="9.0" text-anchor="end" fill="#1a1a1a" stroke="#1a1a1a" stroke-width="0.1" >-0.05</text>
<text x="35.6" y="320.5" font-size="9.0" text-anchor="end" fill="#1a1a1a" stroke="#1a1a1a" stroke-width="0.1" >0.00</text>
<text x="35.6" y="297.1" font-size="9.0" text-anchor="end" fill="#1a1a1a" stroke="#1a1a1a" stroke-width="0.1" >0.05</text>
<text x="35.6" y="273.7" font-size="9.0" text-anchor="end" fill="#1a1a1a" stroke="#1a1a1a" stroke-width="0.1" >0.10</text>
<text x="35.6" y="250.3" font-size="9.0" text-anchor="end" fill="#1a1a1a" stroke="#1a1a1a" stroke-width="0.1" >0.15</text>
<text x="44.65" y="411.8" font-size="9.0" text-anchor="middle" fill="#1a1a1a" stroke="#1a1a1a" stroke-width="0.1" >-0.3</text>
<text x="70.25" y="411.8" font-size="9.0" text-anchor="middle" fill="#1a1a1a" stroke="#1a1a1a" stroke-width="0.1" >-0.2</text>
<text x="95.85" y="411.8" font-size="9.0" text-anchor="middle" fill="#1a1a1a" stroke="#1a1a1a" stroke-width="0.1" >-0.1</text>
<text x="121.45" y="411.8" font-size="9.0" text-anchor="middle" fill="#1a1a1a" stroke="#1a1a1a" stroke-width="0.1" >0.0</text>
<text x="147.05" y="411.8" font-size="9.0" text-anchor="middle" fill="#1a1a1a" stroke="#1a1a1a" stroke-width="0.1" >0.1</text>
<text x="172.65" y="411.8" font-size="9.0" text-anchor="middle" fill="#1a1a1a" stroke="#1a1a1a" stroke-width="0.1" >0.2</text>
<text x="198.25" y="411.8" font-size="9.0" text-anchor="middle" fill="#1a1a1a" stroke="#1a1a1a" stroke-width="0.1" >0.3</text>
<line x1="39.1" y1="317.2" x2="203.6" y2="317.2" stroke="#3a3a3a" stroke-width="0.9" />
<line x1="121.45" y1="233.3" x2="121.45" y2="401.1" stroke="#3a3a3a" stroke-width="0.9" />
<polyline points="40.8,315.9 44.1,316.5 47.6,316.5 50.8,315.6 54,314 57.2,311.8 60.4,311.1 63.6,311.4 66.8,312.7 70,304.3 73.2,299.2 76.4,293.5 79.6,304.6 82.8,305.9 86,302.8 89.2,296 92.7,296 95.9,315.6 98.2,328 100.7,333.6 103.4,350.6 105.8,375.5 107,385 108.9,385.1 109.9,389.6 111.1,395 112.5,386.2 113.8,382.2 115,371.4 116.3,363.3 117.7,348.8 118.9,339.2 120,327 121.5,317.2 122.8,305.4 124.1,294.7 124.7,290 126.3,280.7 127.8,263.5 129.1,253.3 130.6,246.3 131.9,239.6 134.5,244.7 137.2,252.5 137.7,257.2 139.2,281.4 140.6,297 142.1,301.3 144,309.5 145,310.5 147.2,317.2 150.4,328.5 153.6,340.3 156.8,333.8 160,331 163.2,330 166.4,331.7 169.6,334.9 172.8,333.8 176,324.6 179.2,322.7 182.4,325.3 185.6,320.8 188.8,320.1 192,321.8 195.3,317.6 198.5,317.2 201.7,317.2" fill="none" stroke="#7a1ee0" stroke-width="1.1" stroke-linejoin="round" />
<circle cx="40.8" cy="315.9" r="2.1" fill="url(#gP)"/>
<circle cx="44.1" cy="316.5" r="2.1" fill="url(#gP)"/>
<circle cx="47.6" cy="316.5" r="2.1" fill="url(#gP)"/>
<circle cx="50.8" cy="315.6" r="2.1" fill="url(#gP)"/>
<circle cx="54" cy="314" r="2.1" fill="url(#gP)"/>
<circle cx="57.2" cy="311.8" r="2.1" fill="url(#gP)"/>
<circle cx="60.4" cy="311.1" r="2.1" fill="url(#gP)"/>
<circle cx="63.6" cy="311.4" r="2.1" fill="url(#gP)"/>
<circle cx="66.8" cy="312.7" r="2.1" fill="url(#gP)"/>
<circle cx="70" cy="304.3" r="2.1" fill="url(#gP)"/>
<circle cx="73.2" cy="299.2" r="2.1" fill="url(#gP)"/>
<circle cx="76.4" cy="293.5" r="2.1" fill="url(#gP)"/>
<circle cx="79.6" cy="304.6" r="2.1" fill="url(#gP)"/>
<circle cx="82.8" cy="305.9" r="2.1" fill="url(#gP)"/>
<circle cx="86" cy="302.8" r="2.1" fill="url(#gP)"/>
<circle cx="89.2" cy="296" r="2.1" fill="url(#gP)"/>
<circle cx="92.7" cy="296" r="2.1" fill="url(#gP)"/>
<circle cx="95.9" cy="315.6" r="2.1" fill="url(#gP)"/>
<circle cx="98.2" cy="328" r="2.1" fill="url(#gP)"/>
<circle cx="100.7" cy="333.6" r="2.1" fill="url(#gP)"/>
<circle cx="103.4" cy="350.6" r="2.1" fill="url(#gP)"/>
<circle cx="105.8" cy="375.5" r="2.1" fill="url(#gP)"/>
<circle cx="107" cy="385" r="2.1" fill="url(#gP)"/>
<circle cx="108.9" cy="385.1" r="2.1" fill="url(#gP)"/>
<circle cx="109.9" cy="389.6" r="2.1" fill="url(#gP)"/>
<circle cx="111.1" cy="395" r="2.1" fill="url(#gP)"/>
<circle cx="112.5" cy="386.2" r="2.1" fill="url(#gP)"/>
<circle cx="113.8" cy="382.2" r="2.1" fill="url(#gP)"/>
<circle cx="115" cy="371.4" r="2.1" fill="url(#gP)"/>
<circle cx="116.3" cy="363.3" r="2.1" fill="url(#gP)"/>
<circle cx="117.7" cy="348.8" r="2.1" fill="url(#gP)"/>
<circle cx="118.9" cy="339.2" r="2.1" fill="url(#gP)"/>
<circle cx="120" cy="327" r="2.1" fill="url(#gP)"/>
<circle cx="121.5" cy="317.2" r="2.1" fill="url(#gP)"/>
<circle cx="122.8" cy="305.4" r="2.1" fill="url(#gP)"/>
<circle cx="124.1" cy="294.7" r="2.1" fill="url(#gP)"/>
<circle cx="124.7" cy="290" r="2.1" fill="url(#gP)"/>
<circle cx="126.3" cy="280.7" r="2.1" fill="url(#gP)"/>
<circle cx="127.8" cy="263.5" r="2.1" fill="url(#gP)"/>
<circle cx="129.1" cy="253.3" r="2.1" fill="url(#gP)"/>
<circle cx="130.6" cy="246.3" r="2.1" fill="url(#gP)"/>
<circle cx="131.9" cy="239.6" r="2.1" fill="url(#gP)"/>
<circle cx="134.5" cy="244.7" r="2.1" fill="url(#gP)"/>
<circle cx="137.2" cy="252.5" r="2.1" fill="url(#gP)"/>
<circle cx="137.7" cy="257.2" r="2.1" fill="url(#gP)"/>
<circle cx="139.2" cy="281.4" r="2.1" fill="url(#gP)"/>
<circle cx="140.6" cy="297" r="2.1" fill="url(#gP)"/>
<circle cx="142.1" cy="301.3" r="2.1" fill="url(#gP)"/>
<circle cx="144" cy="309.5" r="2.1" fill="url(#gP)"/>
<circle cx="145" cy="310.5" r="2.1" fill="url(#gP)"/>
<circle cx="147.2" cy="317.2" r="2.1" fill="url(#gP)"/>
<circle cx="150.4" cy="328.5" r="2.1" fill="url(#gP)"/>
<circle cx="153.6" cy="340.3" r="2.1" fill="url(#gP)"/>
<circle cx="156.8" cy="333.8" r="2.1" fill="url(#gP)"/>
<circle cx="160" cy="331" r="2.1" fill="url(#gP)"/>
<circle cx="163.2" cy="330" r="2.1" fill="url(#gP)"/>
<circle cx="166.4" cy="331.7" r="2.1" fill="url(#gP)"/>
<circle cx="169.6" cy="334.9" r="2.1" fill="url(#gP)"/>
<circle cx="172.8" cy="333.8" r="2.1" fill="url(#gP)"/>
<circle cx="176" cy="324.6" r="2.1" fill="url(#gP)"/>
<circle cx="179.2" cy="322.7" r="2.1" fill="url(#gP)"/>
<circle cx="182.4" cy="325.3" r="2.1" fill="url(#gP)"/>
<circle cx="185.6" cy="320.8" r="2.1" fill="url(#gP)"/>
<circle cx="188.8" cy="320.1" r="2.1" fill="url(#gP)"/>
<circle cx="192" cy="321.8" r="2.1" fill="url(#gP)"/>
<circle cx="195.3" cy="317.6" r="2.1" fill="url(#gP)"/>
<circle cx="198.5" cy="317.2" r="2.1" fill="url(#gP)"/>
<circle cx="201.7" cy="317.2" r="2.1" fill="url(#gP)"/>
<line x1="131.7" y1="233.3" x2="131.7" y2="401.1" stroke="#ee1c1c" stroke-width="1.3" stroke-dasharray="3.6,2.2"/>
<line x1="146.9" y1="233.3" x2="146.9" y2="401.1" stroke="#111" stroke-width="1.3" stroke-dasharray="3.6,2.2"/>
<text x="96.6" y="269.9" font-size="11.5" fill="#ee1c1c">B<tspan font-size="8.2" dy="2.6" dx="1.8">max</tspan></text>
<text x="154.4" y="270.0" font-size="11.5" fill="#1a1a1a" stroke="#1a1a1a" stroke-width="0.1">B<tspan font-size="8.2" dy="2.6" dx="1.8">R</tspan></text>
<text x="160.2" y="248.9" font-size="8.6" text-anchor="start" fill="#1a1a1a" stroke="#1a1a1a" stroke-width="0.1" >T = 0.3 K</text>
<text transform="translate(9,317.6) rotate(-90)" font-size="10.6" text-anchor="middle" fill="#1a1a1a" stroke="#1a1a1a" stroke-width="0.1"><tspan font-style="italic">&#916; I</tspan><tspan font-size="8" dy="2">sw</tspan><tspan dy="-2"> (mA)</tspan></text>
<text x="108.7" y="425.0" font-size="11" fill="#1a1a1a" stroke="#1a1a1a" stroke-width="0.1"><tspan font-style="italic">B</tspan><tspan font-size="7.5" dy="2.2">z</tspan><tspan dy="-2.2"> (T)</tspan></text>
<text x="239" y="10.2" font-size="11.5" font-weight="bold" fill="#000">c</text>
<rect x="277.5" y="15" width="163" height="165.7" fill="none" stroke="#6e6e6e" stroke-width="0.9" />
<line x1="277.5" y1="98" x2="440.5" y2="98" stroke="#6e6e6e" stroke-width="0.9" />
<line x1="277.5" y1="33.5" x2="280.5" y2="33.5" stroke="#6e6e6e" stroke-width="0.9" />
<line x1="440.5" y1="33.5" x2="437.5" y2="33.5" stroke="#6e6e6e" stroke-width="0.9" />
<line x1="277.5" y1="56.5" x2="280.5" y2="56.5" stroke="#6e6e6e" stroke-width="0.9" />
<line x1="440.5" y1="56.5" x2="437.5" y2="56.5" stroke="#6e6e6e" stroke-width="0.9" />
<line x1="277.5" y1="79.5" x2="280.5" y2="79.5" stroke="#6e6e6e" stroke-width="0.9" />
<line x1="440.5" y1="79.5" x2="437.5" y2="79.5" stroke="#6e6e6e" stroke-width="0.9" />
<line x1="277.5" y1="22" x2="279.3" y2="22" stroke="#6e6e6e" stroke-width="0.9" />
<line x1="440.5" y1="22" x2="438.7" y2="22" stroke="#6e6e6e" stroke-width="0.9" />
<line x1="277.5" y1="45" x2="279.3" y2="45" stroke="#6e6e6e" stroke-width="0.9" />
<line x1="440.5" y1="45" x2="438.7" y2="45" stroke="#6e6e6e" stroke-width="0.9" />
<line x1="277.5" y1="68" x2="279.3" y2="68" stroke="#6e6e6e" stroke-width="0.9" />
<line x1="440.5" y1="68" x2="438.7" y2="68" stroke="#6e6e6e" stroke-width="0.9" />
<line x1="277.5" y1="91" x2="279.3" y2="91" stroke="#6e6e6e" stroke-width="0.9" />
<line x1="440.5" y1="91" x2="438.7" y2="91" stroke="#6e6e6e" stroke-width="0.9" />
<text x="275" y="36.8" font-size="9.0" text-anchor="end" fill="#1a1a1a" stroke="#1a1a1a" stroke-width="0.1" >0.1</text>
<text x="275" y="59.8" font-size="9.0" text-anchor="end" fill="#1a1a1a" stroke="#1a1a1a" stroke-width="0.1" >0.0</text>
<text x="275" y="82.8" font-size="9.0" text-anchor="end" fill="#1a1a1a" stroke="#1a1a1a" stroke-width="0.1" >-0.1</text>
<line x1="277.5" y1="116.4" x2="280.5" y2="116.4" stroke="#6e6e6e" stroke-width="0.9" />
<line x1="440.5" y1="116.4" x2="437.5" y2="116.4" stroke="#6e6e6e" stroke-width="0.9" />
<line x1="277.5" y1="139.4" x2="280.5" y2="139.4" stroke="#6e6e6e" stroke-width="0.9" />
<line x1="440.5" y1="139.4" x2="437.5" y2="139.4" stroke="#6e6e6e" stroke-width="0.9" />
<line x1="277.5" y1="162.4" x2="280.5" y2="162.4" stroke="#6e6e6e" stroke-width="0.9" />
<line x1="440.5" y1="162.4" x2="437.5" y2="162.4" stroke="#6e6e6e" stroke-width="0.9" />
<line x1="277.5" y1="104.9" x2="279.3" y2="104.9" stroke="#6e6e6e" stroke-width="0.9" />
<line x1="440.5" y1="104.9" x2="438.7" y2="104.9" stroke="#6e6e6e" stroke-width="0.9" />
<line x1="277.5" y1="127.9" x2="279.3" y2="127.9" stroke="#6e6e6e" stroke-width="0.9" />
<line x1="440.5" y1="127.9" x2="438.7" y2="127.9" stroke="#6e6e6e" stroke-width="0.9" />
<line x1="277.5" y1="150.9" x2="279.3" y2="150.9" stroke="#6e6e6e" stroke-width="0.9" />
<line x1="440.5" y1="150.9" x2="438.7" y2="150.9" stroke="#6e6e6e" stroke-width="0.9" />
<line x1="277.5" y1="173.9" x2="279.3" y2="173.9" stroke="#6e6e6e" stroke-width="0.9" />
<line x1="440.5" y1="173.9" x2="438.7" y2="173.9" stroke="#6e6e6e" stroke-width="0.9" />
<text x="275" y="119.7" font-size="9.0" text-anchor="end" fill="#1a1a1a" stroke="#1a1a1a" stroke-width="0.1" >0.1</text>
<text x="275" y="142.7" font-size="9.0" text-anchor="end" fill="#1a1a1a" stroke="#1a1a1a" stroke-width="0.1" >0.0</text>
<text x="275" y="165.7" font-size="9.0" text-anchor="end" fill="#1a1a1a" stroke="#1a1a1a" stroke-width="0.1" >-0.1</text>
<line x1="306.4" y1="180.7" x2="306.4" y2="177.7" stroke="#6e6e6e" stroke-width="0.9" />
<line x1="306.4" y1="15" x2="306.4" y2="18" stroke="#6e6e6e" stroke-width="0.9" />
<line x1="342.5" y1="180.7" x2="342.5" y2="177.7" stroke="#6e6e6e" stroke-width="0.9" />
<line x1="342.5" y1="15" x2="342.5" y2="18" stroke="#6e6e6e" stroke-width="0.9" />
<line x1="378.6" y1="180.7" x2="378.6" y2="177.7" stroke="#6e6e6e" stroke-width="0.9" />
<line x1="378.6" y1="15" x2="378.6" y2="18" stroke="#6e6e6e" stroke-width="0.9" />
<line x1="414.7" y1="180.7" x2="414.7" y2="177.7" stroke="#6e6e6e" stroke-width="0.9" />
<line x1="414.7" y1="15" x2="414.7" y2="18" stroke="#6e6e6e" stroke-width="0.9" />
<line x1="288.35" y1="180.7" x2="288.35" y2="178.9" stroke="#6e6e6e" stroke-width="0.9" />
<line x1="288.35" y1="15" x2="288.35" y2="16.8" stroke="#6e6e6e" stroke-width="0.9" />
<line x1="324.45" y1="180.7" x2="324.45" y2="178.9" stroke="#6e6e6e" stroke-width="0.9" />
<line x1="324.45" y1="15" x2="324.45" y2="16.8" stroke="#6e6e6e" stroke-width="0.9" />
<line x1="360.55" y1="180.7" x2="360.55" y2="178.9" stroke="#6e6e6e" stroke-width="0.9" />
<line x1="360.55" y1="15" x2="360.55" y2="16.8" stroke="#6e6e6e" stroke-width="0.9" />
<line x1="396.65" y1="180.7" x2="396.65" y2="178.9" stroke="#6e6e6e" stroke-width="0.9" />
<line x1="396.65" y1="15" x2="396.65" y2="16.8" stroke="#6e6e6e" stroke-width="0.9" />
<line x1="432.75" y1="180.7" x2="432.75" y2="178.9" stroke="#6e6e6e" stroke-width="0.9" />
<line x1="432.75" y1="15" x2="432.75" y2="16.8" stroke="#6e6e6e" stroke-width="0.9" />
<line x1="306.4" y1="98" x2="306.4" y2="95.5" stroke="#6e6e6e" stroke-width="0.9" />
<line x1="306.4" y1="98" x2="306.4" y2="100.5" stroke="#6e6e6e" stroke-width="0.9" />
<line x1="342.5" y1="98" x2="342.5" y2="95.5" stroke="#6e6e6e" stroke-width="0.9" />
<line x1="342.5" y1="98" x2="342.5" y2="100.5" stroke="#6e6e6e" stroke-width="0.9" />
<line x1="378.6" y1="98" x2="378.6" y2="95.5" stroke="#6e6e6e" stroke-width="0.9" />
<line x1="378.6" y1="98" x2="378.6" y2="100.5" stroke="#6e6e6e" stroke-width="0.9" />
<line x1="414.7" y1="98" x2="414.7" y2="95.5" stroke="#6e6e6e" stroke-width="0.9" />
<line x1="414.7" y1="98" x2="414.7" y2="100.5" stroke="#6e6e6e" stroke-width="0.9" />
<text x="306.4" y="190.2" font-size="9.0" text-anchor="middle" fill="#1a1a1a" stroke="#1a1a1a" stroke-width="0.1" >0.1</text>
<text x="342.5" y="190.2" font-size="9.0" text-anchor="middle" fill="#1a1a1a" stroke="#1a1a1a" stroke-width="0.1" >0.2</text>
<text x="378.6" y="190.2" font-size="9.0" text-anchor="middle" fill="#1a1a1a" stroke="#1a1a1a" stroke-width="0.1" >0.3</text>
<text x="414.7" y="190.2" font-size="9.0" text-anchor="middle" fill="#1a1a1a" stroke="#1a1a1a" stroke-width="0.1" >0.4</text>
<clipPath id="clipC"><rect x="277.5" y="15" width="163" height="165.7"/></clipPath>
<g clip-path="url(#clipC)">
<line x1="277.5" y1="56.4" x2="296" y2="56.4" stroke="#ef7d2e" stroke-width="2.2" />
<line x1="296" y1="56.4" x2="370.2" y2="56.4" stroke="#f29650" stroke-width="2.2" />
<line x1="370.2" y1="56.4" x2="426.5" y2="56.4" stroke="#1fcb8c" stroke-width="2.0" />
<line x1="370.2" y1="56.4" x2="370.2" y2="78.61" stroke="#ef7d2e" stroke-width="1.3" />
<line x1="426.5" y1="56.4" x2="426.5" y2="18.89" stroke="#1fcb8c" stroke-width="1.3" />
<polyline points="295.4,56.4 295.61,56.96 296.03,57.39 296.61,57.78 297.31,58.16 298.13,58.55 299.06,58.93 300.08,59.32 301.2,59.71 302.4,60.12 303.68,60.53 305.05,60.96 306.49,61.4 308,61.85 309.59,62.31 311.24,62.79 312.97,63.28 314.76,63.78 316.61,64.3 318.53,64.83 320.51,65.38 322.54,65.93 324.64,66.5 326.8,67.09 329.01,67.68 331.28,68.29 333.6,68.92 335.98,69.55 338.41,70.2 340.89,70.86 343.43,71.54 346.02,72.22 348.65,72.92 351.34,73.63 354.08,74.36 356.87,75.09 359.7,75.84 362.58,76.6 365.51,77.37 368.48,78.16 371.51,78.95 374.57,79.76 377.68,80.58 380.84,81.41 384.04,82.25 387.29,83.1 390.58,83.96 393.91,84.84 397.28,85.72 400.7,86.62 404.16,87.53 407.66,88.44 411.2,89.37 414.79,90.31 418.41,91.26 422.08,92.22 425.78,93.19 429.53,94.17 433.31,95.16 437.14,96.16 441,97.17" fill="none" stroke="#ef7d2e" stroke-width="2.2" stroke-linejoin="round" />
<polyline points="294.4,56.4 294.61,55.86 295.03,55.44 295.61,55.06 296.32,54.68 297.15,54.31 298.08,53.93 299.11,53.54 300.23,53.15 301.44,52.75 302.74,52.33 304.11,51.91 305.56,51.46 307.09,51.01 308.69,50.54 310.35,50.06 312.09,49.57 313.89,49.06 315.76,48.54 317.69,48 319.68,47.45 321.73,46.88 323.84,46.3 326.01,45.71 328.24,45.11 330.52,44.49 332.86,43.85 335.26,43.21 337.71,42.55 340.21,41.87 342.76,41.19 345.36,40.49 348.02,39.78 350.73,39.05 353.48,38.31 356.29,37.56 359.14,36.8 362.04,36.03 364.99,35.24 367.99,34.44 371.03,33.63 374.12,32.81 377.25,31.97 380.43,31.13 383.65,30.27 386.92,29.4 390.23,28.52 393.59,27.63 396.98,26.73 400.42,25.81 403.91,24.89 407.43,23.95 411,23.01 414.61,22.05 418.26,21.08 421.95,20.1 425.68,19.11 429.45,18.11 433.26,17.1 437.11,16.08 441,15.05" fill="none" stroke="#1fcb8c" stroke-width="2.2" stroke-linejoin="round" />
</g>
<line x1="422.7" y1="16.4" x2="409.76" y2="19.87" stroke="#1fcb8c" stroke-width="0.7" />
<polygon points="405.9,20.9 409.76,17.9 410.74,21.57" fill="#1fcb8c"/>
<line x1="384.9" y1="50.8" x2="397" y2="50.8" stroke="#1fcb8c" stroke-width="0.7" />
<polygon points="401,50.8 396.5,52.7 396.5,48.9" fill="#1fcb8c"/>
<line x1="340" y1="61.4" x2="348.9" y2="61.4" stroke="#ef7d2e" stroke-width="0.7" />
<polygon points="352.9,61.4 348.4,63.3 348.4,59.5" fill="#ef7d2e"/>
<line x1="363.7" y1="83" x2="350.05" y2="79.18" stroke="#ef7d2e" stroke-width="0.7" />
<polygon points="346.2,78.1 351.05,77.48 350.02,81.14" fill="#ef7d2e"/>
<text x="308" y="26" font-size="8.3" text-anchor="start" fill="#1a1a1a" stroke="#1a1a1a" stroke-width="0.1" >B&#8201;=&#8201;0.05 T</text>
<g class="serif" fill="#1fcb8c" font-style="italic">
<text x="402.8" y="44.6" font-size="13.2">I</text>
<text x="407.4" y="47.3" font-size="12" font-style="normal" stroke="#1fcb8c" stroke-width="0.2">sw</text>
<text x="408.2" y="41.1" font-size="12.5" font-style="normal">+</text>
</g>
<line x1="375.2" y1="62.2" x2="375.2" y2="74.3" stroke="#f0914e" stroke-width="1.2" />
<g class="serif" fill="#ef7d2e" font-style="italic">
<text x="380.6" y="71.5" font-size="13.2">I</text>
<text x="385.2" y="74.2" font-size="12" font-style="normal" stroke="#ef7d2e" stroke-width="0.2">sw</text>
<text x="386" y="68" font-size="12.5" font-style="normal">&#8722;</text>
</g>
<line x1="400.6" y1="62.2" x2="400.6" y2="74.3" stroke="#f0914e" stroke-width="1.2" />
<g class="serif" fill="#1fcb8c" font-style="italic">
<text x="288.8" y="91.6" font-size="13.2">I</text>
<text x="293.4" y="94.3" font-size="12" font-style="normal" stroke="#1fcb8c" stroke-width="0.2">sw</text>
<text x="294.2" y="88.1" font-size="12.5" font-style="normal">+</text>
</g>
<text x="307" y="90.6" font-size="11" text-anchor="start" fill="#1a1a1a" stroke="#1a1a1a" stroke-width="0.1" >&gt;</text>
<line x1="315.9" y1="81.8" x2="315.9" y2="94" stroke="#f0914e" stroke-width="1.2" />
<g class="serif" fill="#ef7d2e" font-style="italic">
<text x="321" y="91.6" font-size="13.2">I</text>
<text x="325.6" y="94.3" font-size="12" font-style="normal" stroke="#ef7d2e" stroke-width="0.2">sw</text>
<text x="326.4" y="88.1" font-size="12.5" font-style="normal">&#8722;</text>
</g>
<line x1="340.8" y1="81.8" x2="340.8" y2="94" stroke="#f0914e" stroke-width="1.2" />
<g clip-path="url(#clipC)">
<line x1="277.5" y1="139.3" x2="295" y2="139.3" stroke="#1fcb8c" stroke-width="2.2" />
<line x1="295" y1="139.3" x2="329.6" y2="139.3" stroke="#3fd29c" stroke-width="2.2" />
<line x1="300" y1="139.3" x2="328" y2="139.3" stroke="#b8eedb" stroke-width="0.5" stroke-dasharray="1.5,1.5"/>
<line x1="329.6" y1="139.3" x2="348.6" y2="139.3" stroke="#f29650" stroke-width="1.8" />
<line x1="329.6" y1="139.3" x2="329.6" y2="127.42" stroke="#1fcb8c" stroke-width="1.3" />
<line x1="348.6" y1="139.3" x2="348.6" y2="155.9" stroke="#ef7d2e" stroke-width="1.3" />
<polyline points="294.4,139.3 294.61,139.84 295.03,140.25 295.61,140.63 296.32,141 297.15,141.37 298.08,141.74 299.11,142.12 300.23,142.51 301.44,142.91 302.74,143.32 304.11,143.75 305.56,144.18 307.09,144.63 308.69,145.09 310.35,145.57 312.09,146.06 313.89,146.56 315.76,147.08 317.69,147.61 319.68,148.15 321.73,148.71 323.84,149.28 326.01,149.87 328.24,150.47 330.52,151.08 332.86,151.71 335.26,152.35 337.71,153 340.21,153.67 342.76,154.35 345.36,155.04 348.02,155.74 350.73,156.46 353.48,157.19 356.29,157.93 359.14,158.68 362.04,159.45 364.99,160.23 367.99,161.02 371.03,161.82 374.12,162.63 377.25,163.46 380.43,164.29 383.65,165.14 386.92,166 390.23,166.87 393.59,167.75 396.98,168.65 400.42,169.55 403.91,170.47 407.43,171.39 411,172.33 414.61,173.27 418.26,174.23 421.95,175.2 425.68,176.18 429.45,177.17 433.26,178.17 437.11,179.18 441,180.2" fill="none" stroke="#ef7d2e" stroke-width="2.2" stroke-linejoin="round" />
<polyline points="293.4,139.3 293.61,138.76 294.04,138.34 294.62,137.96 295.34,137.58 296.17,137.21 297.11,136.83 298.14,136.45 299.27,136.05 300.49,135.65 301.8,135.23 303.18,134.81 304.64,134.36 306.17,133.91 307.78,133.44 309.46,132.96 311.21,132.47 313.02,131.96 314.9,131.43 316.84,130.89 318.85,130.34 320.92,129.78 323.04,129.2 325.23,128.6 327.47,127.99 329.77,127.37 332.13,126.74 334.54,126.09 337,125.43 339.52,124.75 342.09,124.07 344.71,123.37 347.39,122.65 350.11,121.93 352.89,121.19 355.71,120.44 358.58,119.67 361.5,118.9 364.47,118.11 367.49,117.31 370.55,116.5 373.66,115.67 376.81,114.84 380.02,113.99 383.26,113.13 386.55,112.26 389.88,111.38 393.26,110.48 396.68,109.58 400.15,108.66 403.65,107.73 407.2,106.8 410.8,105.85 414.43,104.89 418.1,103.92 421.82,102.94 425.57,101.94 429.37,100.94 433.21,99.93 437.08,98.91 441,97.87" fill="none" stroke="#1fcb8c" stroke-width="2.2" stroke-linejoin="round" />
</g>
<line x1="343.7" y1="118.3" x2="330.76" y2="121.77" stroke="#1fcb8c" stroke-width="0.7" />
<polygon points="326.9,122.8 330.76,119.8 331.74,123.47" fill="#1fcb8c"/>
<line x1="309.9" y1="136.2" x2="322.5" y2="136.2" stroke="#1fcb8c" stroke-width="0.7" />
<polygon points="326.5,136.2 322,138.1 322,134.3" fill="#1fcb8c"/>
<line x1="326.3" y1="144" x2="338" y2="144" stroke="#ef7d2e" stroke-width="0.7" />
<polygon points="342,144 337.5,145.9 337.5,142.1" fill="#ef7d2e"/>
<line x1="355.4" y1="162.8" x2="342.43" y2="160.27" stroke="#ef7d2e" stroke-width="0.7" />
<polygon points="338.5,159.5 343.28,158.5 342.55,162.23" fill="#ef7d2e"/>
<text x="308" y="109" font-size="8.3" text-anchor="start" fill="#1a1a1a" stroke="#1a1a1a" stroke-width="0.1" >B&#8201;=&#8201;0.12 T</text>
<g class="serif" fill="#1fcb8c" font-style="italic">
<text x="357.4" y="134.3" font-size="13.2">I</text>
<text x="362" y="137" font-size="12" font-style="normal" stroke="#1fcb8c" stroke-width="0.2">sw</text>
<text x="362.8" y="130.8" font-size="12.5" font-style="normal">+</text>
</g>
<line x1="355.9" y1="140.3" x2="355.9" y2="152.5" stroke="#f0914e" stroke-width="1.2" />
<g class="serif" fill="#ef7d2e" font-style="italic">
<text x="361.2" y="149.7" font-size="13.2">I</text>
<text x="365.8" y="152.4" font-size="12" font-style="normal" stroke="#ef7d2e" stroke-width="0.2">sw</text>
<text x="366.6" y="146.2" font-size="12.5" font-style="normal">&#8722;</text>
</g>
<line x1="381.3" y1="140.3" x2="381.3" y2="152.5" stroke="#f0914e" stroke-width="1.2" />
<g class="serif" fill="#1fcb8c" font-style="italic">
<text x="290.6" y="173.3" font-size="13.2">I</text>
<text x="295.2" y="176" font-size="12" font-style="normal" stroke="#1fcb8c" stroke-width="0.2">sw</text>
<text x="296" y="169.8" font-size="12.5" font-style="normal">+</text>
</g>
<text x="308.6" y="172.4" font-size="11" text-anchor="start" fill="#1a1a1a" stroke="#1a1a1a" stroke-width="0.1" >&lt;</text>
<line x1="317.8" y1="163.2" x2="317.8" y2="175.6" stroke="#f0914e" stroke-width="1.2" />
<g class="serif" fill="#ef7d2e" font-style="italic">
<text x="322.6" y="173.3" font-size="13.2">I</text>
<text x="327.2" y="176" font-size="12" font-style="normal" stroke="#ef7d2e" stroke-width="0.2">sw</text>
<text x="328" y="169.8" font-size="12.5" font-style="normal">&#8722;</text>
</g>
<line x1="342.6" y1="163.2" x2="342.6" y2="175.6" stroke="#f0914e" stroke-width="1.2" />
<text transform="translate(252.2,99.6) rotate(-90)" font-size="11" text-anchor="middle" fill="#1a1a1a" stroke="#1a1a1a" stroke-width="0.1"><tspan font-style="italic">V</tspan> (V)</text>
<text x="339.3" y="204.6" font-size="10.5" fill="#1a1a1a" stroke="#1a1a1a" stroke-width="0.1">| <tspan font-style="italic">I</tspan> | (mA)</text>
<text x="238.6" y="222.8" font-size="11.5" font-weight="bold" fill="#000">d</text>
<rect x="274.2" y="252.6" width="151.6" height="21.69" fill="url(#hm0)" stroke="none" stroke-width="0" />
<rect x="274.2" y="273.59" width="151.6" height="21.69" fill="url(#hm1)" stroke="none" stroke-width="0" />
<rect x="274.2" y="294.57" width="151.6" height="21.69" fill="url(#hm2)" stroke="none" stroke-width="0" />
<rect x="274.2" y="315.56" width="151.6" height="21.69" fill="url(#hm3)" stroke="none" stroke-width="0" />
<rect x="274.2" y="336.54" width="151.6" height="21.69" fill="url(#hm4)" stroke="none" stroke-width="0" />
<rect x="274.2" y="357.53" width="151.6" height="21.69" fill="url(#hm5)" stroke="none" stroke-width="0" />
<rect x="274.2" y="378.51" width="151.6" height="20.99" fill="url(#hm6)" stroke="none" stroke-width="0" />
<rect x="274.2" y="252.6" width="151.6" height="146.9" fill="none" stroke="#333" stroke-width="0.9" />
<line x1="274.2" y1="263.09" x2="276.8" y2="263.09" stroke="#333" stroke-width="0.9" />
<line x1="425.8" y1="263.09" x2="423.2" y2="263.09" stroke="#333" stroke-width="0.9" />
<line x1="274.2" y1="284.08" x2="276.8" y2="284.08" stroke="#333" stroke-width="0.9" />
<line x1="425.8" y1="284.08" x2="423.2" y2="284.08" stroke="#333" stroke-width="0.9" />
<line x1="274.2" y1="305.06" x2="276.8" y2="305.06" stroke="#333" stroke-width="0.9" />
<line x1="425.8" y1="305.06" x2="423.2" y2="305.06" stroke="#333" stroke-width="0.9" />
<line x1="274.2" y1="326.05" x2="276.8" y2="326.05" stroke="#333" stroke-width="0.9" />
<line x1="425.8" y1="326.05" x2="423.2" y2="326.05" stroke="#333" stroke-width="0.9" />
<line x1="274.2" y1="347.04" x2="276.8" y2="347.04" stroke="#333" stroke-width="0.9" />
<line x1="425.8" y1="347.04" x2="423.2" y2="347.04" stroke="#333" stroke-width="0.9" />
<line x1="274.2" y1="368.02" x2="276.8" y2="368.02" stroke="#333" stroke-width="0.9" />
<line x1="425.8" y1="368.02" x2="423.2" y2="368.02" stroke="#333" stroke-width="0.9" />
<line x1="274.2" y1="389.01" x2="276.8" y2="389.01" stroke="#333" stroke-width="0.9" />
<line x1="425.8" y1="389.01" x2="423.2" y2="389.01" stroke="#333" stroke-width="0.9" />
<line x1="279.76" y1="399.5" x2="279.76" y2="396.9" stroke="#333" stroke-width="0.9" />
<line x1="279.76" y1="252.6" x2="279.76" y2="255.2" stroke="#333" stroke-width="0.9" />
<line x1="303.04" y1="399.5" x2="303.04" y2="396.9" stroke="#333" stroke-width="0.9" />
<line x1="303.04" y1="252.6" x2="303.04" y2="255.2" stroke="#333" stroke-width="0.9" />
<line x1="326.32" y1="399.5" x2="326.32" y2="396.9" stroke="#333" stroke-width="0.9" />
<line x1="326.32" y1="252.6" x2="326.32" y2="255.2" stroke="#333" stroke-width="0.9" />
<line x1="349.6" y1="399.5" x2="349.6" y2="396.9" stroke="#333" stroke-width="0.9" />
<line x1="349.6" y1="252.6" x2="349.6" y2="255.2" stroke="#333" stroke-width="0.9" />
<line x1="372.88" y1="399.5" x2="372.88" y2="396.9" stroke="#333" stroke-width="0.9" />
<line x1="372.88" y1="252.6" x2="372.88" y2="255.2" stroke="#333" stroke-width="0.9" />
<line x1="396.16" y1="399.5" x2="396.16" y2="396.9" stroke="#333" stroke-width="0.9" />
<line x1="396.16" y1="252.6" x2="396.16" y2="255.2" stroke="#333" stroke-width="0.9" />
<line x1="419.44" y1="399.5" x2="419.44" y2="396.9" stroke="#333" stroke-width="0.9" />
<line x1="419.44" y1="252.6" x2="419.44" y2="255.2" stroke="#333" stroke-width="0.9" />
<text x="271.2" y="266.39" font-size="9.0" text-anchor="end" fill="#1a1a1a" stroke="#1a1a1a" stroke-width="0.1" >3.5</text>
<text x="271.2" y="287.38" font-size="9.0" text-anchor="end" fill="#1a1a1a" stroke="#1a1a1a" stroke-width="0.1" >3</text>
<text x="271.2" y="308.36" font-size="9.0" text-anchor="end" fill="#1a1a1a" stroke="#1a1a1a" stroke-width="0.1" >2.5</text>
<text x="271.2" y="329.35" font-size="9.0" text-anchor="end" fill="#1a1a1a" stroke="#1a1a1a" stroke-width="0.1" >2</text>
<text x="271.2" y="350.34" font-size="9.0" text-anchor="end" fill="#1a1a1a" stroke="#1a1a1a" stroke-width="0.1" >1.5</text>
<text x="271.2" y="371.32" font-size="9.0" text-anchor="end" fill="#1a1a1a" stroke="#1a1a1a" stroke-width="0.1" >1</text>
<text x="271.2" y="392.31" font-size="9.0" text-anchor="end" fill="#1a1a1a" stroke="#1a1a1a" stroke-width="0.1" >0.3</text>
<text x="279.76" y="409.7" font-size="9.0" text-anchor="middle" fill="#1a1a1a" stroke="#1a1a1a" stroke-width="0.1" >-0.15</text>
<text x="303.04" y="409.7" font-size="9.0" text-anchor="middle" fill="#1a1a1a" stroke="#1a1a1a" stroke-width="0.1" >-0.1</text>
<text x="326.32" y="409.7" font-size="9.0" text-anchor="middle" fill="#1a1a1a" stroke="#1a1a1a" stroke-width="0.1" >-0.05</text>
<text x="349.6" y="409.7" font-size="9.0" text-anchor="middle" fill="#1a1a1a" stroke="#1a1a1a" stroke-width="0.1" >0</text>
<text x="372.88" y="409.7" font-size="9.0" text-anchor="middle" fill="#1a1a1a" stroke="#1a1a1a" stroke-width="0.1" >0.05</text>
<text x="396.16" y="409.7" font-size="9.0" text-anchor="middle" fill="#1a1a1a" stroke="#1a1a1a" stroke-width="0.1" >0.1</text>
<text x="419.44" y="409.7" font-size="9.0" text-anchor="middle" fill="#1a1a1a" stroke="#1a1a1a" stroke-width="0.1" >0.15</text>
<rect x="274" y="234.2" width="152" height="8.3" fill="url(#cbar)" stroke="#777" stroke-width="0.6" />
<text x="274" y="251" font-size="9.0" text-anchor="middle" fill="#1a1a1a" stroke="#1a1a1a" stroke-width="0.1" >-30</text>
<line x1="299.33" y1="242.5" x2="299.33" y2="240.6" stroke="#555" stroke-width="0.7" />
<text x="299.33" y="251" font-size="9.0" text-anchor="middle" fill="#1a1a1a" stroke="#1a1a1a" stroke-width="0.1" >-20</text>
<line x1="324.67" y1="242.5" x2="324.67" y2="240.6" stroke="#555" stroke-width="0.7" />
<text x="324.67" y="251" font-size="9.0" text-anchor="middle" fill="#1a1a1a" stroke="#1a1a1a" stroke-width="0.1" >-10</text>
<line x1="350" y1="242.5" x2="350" y2="240.6" stroke="#555" stroke-width="0.7" />
<text x="350" y="251" font-size="9.0" text-anchor="middle" fill="#1a1a1a" stroke="#1a1a1a" stroke-width="0.1" >0.0</text>
<line x1="375.33" y1="242.5" x2="375.33" y2="240.6" stroke="#555" stroke-width="0.7" />
<text x="375.33" y="251" font-size="9.0" text-anchor="middle" fill="#1a1a1a" stroke="#1a1a1a" stroke-width="0.1" >10</text>
<line x1="400.67" y1="242.5" x2="400.67" y2="240.6" stroke="#555" stroke-width="0.7" />
<text x="400.67" y="251" font-size="9.0" text-anchor="middle" fill="#1a1a1a" stroke="#1a1a1a" stroke-width="0.1" >20</text>
<text x="426" y="251" font-size="9.0" text-anchor="middle" fill="#1a1a1a" stroke="#1a1a1a" stroke-width="0.1" >30</text>
<text x="338.2" y="231.0" font-size="11" fill="#1a1a1a" stroke="#1a1a1a" stroke-width="0.1"><tspan class="serif" font-style="italic" font-size="12">&#951;</tspan> (%)</text>
<text transform="translate(252.3,325.3) rotate(-90)" font-size="11" text-anchor="middle" fill="#1a1a1a" stroke="#1a1a1a" stroke-width="0.1"><tspan font-style="italic">T</tspan> (K)</text>
<text x="336.1" y="425.2" font-size="11" fill="#1a1a1a" stroke="#1a1a1a" stroke-width="0.1"><tspan font-style="italic">B</tspan><tspan font-size="7.5" dy="2.2">z</tspan><tspan dy="-2.2"> (T)</tspan></text>
<text x="458.8" y="10.2" font-size="11.5" font-weight="bold" fill="#000">e</text>
<rect x="488.7" y="14.5" width="163.6" height="166.2" fill="none" stroke="#6e6e6e" stroke-width="0.9" />
<line x1="488.7" y1="97.2" x2="652.3" y2="97.2" stroke="#6e6e6e" stroke-width="0.9" />
<line x1="496.6" y1="180.7" x2="496.6" y2="177.7" stroke="#6e6e6e" stroke-width="0.9" />
<line x1="496.6" y1="14.5" x2="496.6" y2="17.5" stroke="#6e6e6e" stroke-width="0.9" />
<line x1="529.2" y1="180.7" x2="529.2" y2="177.7" stroke="#6e6e6e" stroke-width="0.9" />
<line x1="529.2" y1="14.5" x2="529.2" y2="17.5" stroke="#6e6e6e" stroke-width="0.9" />
<line x1="561.8" y1="180.7" x2="561.8" y2="177.7" stroke="#6e6e6e" stroke-width="0.9" />
<line x1="561.8" y1="14.5" x2="561.8" y2="17.5" stroke="#6e6e6e" stroke-width="0.9" />
<line x1="594.4" y1="180.7" x2="594.4" y2="177.7" stroke="#6e6e6e" stroke-width="0.9" />
<line x1="594.4" y1="14.5" x2="594.4" y2="17.5" stroke="#6e6e6e" stroke-width="0.9" />
<line x1="627" y1="180.7" x2="627" y2="177.7" stroke="#6e6e6e" stroke-width="0.9" />
<line x1="627" y1="14.5" x2="627" y2="17.5" stroke="#6e6e6e" stroke-width="0.9" />
<line x1="512.9" y1="180.7" x2="512.9" y2="178.9" stroke="#6e6e6e" stroke-width="0.9" />
<line x1="512.9" y1="14.5" x2="512.9" y2="16.3" stroke="#6e6e6e" stroke-width="0.9" />
<line x1="545.5" y1="180.7" x2="545.5" y2="178.9" stroke="#6e6e6e" stroke-width="0.9" />
<line x1="545.5" y1="14.5" x2="545.5" y2="16.3" stroke="#6e6e6e" stroke-width="0.9" />
<line x1="578.1" y1="180.7" x2="578.1" y2="178.9" stroke="#6e6e6e" stroke-width="0.9" />
<line x1="578.1" y1="14.5" x2="578.1" y2="16.3" stroke="#6e6e6e" stroke-width="0.9" />
<line x1="610.7" y1="180.7" x2="610.7" y2="178.9" stroke="#6e6e6e" stroke-width="0.9" />
<line x1="610.7" y1="14.5" x2="610.7" y2="16.3" stroke="#6e6e6e" stroke-width="0.9" />
<line x1="643.3" y1="180.7" x2="643.3" y2="178.9" stroke="#6e6e6e" stroke-width="0.9" />
<line x1="643.3" y1="14.5" x2="643.3" y2="16.3" stroke="#6e6e6e" stroke-width="0.9" />
<text x="496.6" y="190.6" font-size="9.0" text-anchor="middle" fill="#1a1a1a" stroke="#1a1a1a" stroke-width="0.1" >0.0</text>
<text x="529.2" y="190.6" font-size="9.0" text-anchor="middle" fill="#1a1a1a" stroke="#1a1a1a" stroke-width="0.1" >0.2</text>
<text x="561.8" y="190.6" font-size="9.0" text-anchor="middle" fill="#1a1a1a" stroke="#1a1a1a" stroke-width="0.1" >0.4</text>
<text x="594.4" y="190.6" font-size="9.0" text-anchor="middle" fill="#1a1a1a" stroke="#1a1a1a" stroke-width="0.1" >0.6</text>
<text x="627" y="190.6" font-size="9.0" text-anchor="middle" fill="#1a1a1a" stroke="#1a1a1a" stroke-width="0.1" >0.8</text>
<line x1="488.7" y1="94.6" x2="491.7" y2="94.6" stroke="#6e6e6e" stroke-width="0.9" />
<line x1="488.7" y1="69.5" x2="491.7" y2="69.5" stroke="#6e6e6e" stroke-width="0.9" />
<line x1="488.7" y1="44.4" x2="491.7" y2="44.4" stroke="#6e6e6e" stroke-width="0.9" />
<line x1="488.7" y1="19.3" x2="491.7" y2="19.3" stroke="#6e6e6e" stroke-width="0.9" />
<line x1="488.7" y1="82.05" x2="490.5" y2="82.05" stroke="#6e6e6e" stroke-width="0.9" />
<line x1="488.7" y1="56.95" x2="490.5" y2="56.95" stroke="#6e6e6e" stroke-width="0.9" />
<line x1="488.7" y1="31.85" x2="490.5" y2="31.85" stroke="#6e6e6e" stroke-width="0.9" />
<text x="486.2" y="97.9" font-size="9.0" text-anchor="end" fill="#1a1a1a" stroke="#1a1a1a" stroke-width="0.1" >0</text>
<text x="486.2" y="72.8" font-size="9.0" text-anchor="end" fill="#1a1a1a" stroke="#1a1a1a" stroke-width="0.1" >10</text>
<text x="486.2" y="47.7" font-size="9.0" text-anchor="end" fill="#1a1a1a" stroke="#1a1a1a" stroke-width="0.1" >20</text>
<text x="486.2" y="22.6" font-size="9.0" text-anchor="end" fill="#1a1a1a" stroke="#1a1a1a" stroke-width="0.1" >30</text>
<line x1="652.3" y1="94" x2="649.3" y2="94" stroke="#6e6e6e" stroke-width="0.9" />
<line x1="652.3" y1="59.41" x2="649.3" y2="59.41" stroke="#6e6e6e" stroke-width="0.9" />
<line x1="652.3" y1="24.82" x2="649.3" y2="24.82" stroke="#6e6e6e" stroke-width="0.9" />
<line x1="652.3" y1="76.7" x2="650.5" y2="76.7" stroke="#6e6e6e" stroke-width="0.9" />
<line x1="652.3" y1="42.12" x2="650.5" y2="42.12" stroke="#6e6e6e" stroke-width="0.9" />
<text x="654.6" y="97.3" font-size="9.0" text-anchor="start" fill="#1a1a1a" stroke="#1a1a1a" stroke-width="0.1" >0</text>
<text x="654.6" y="62.71" font-size="9.0" text-anchor="start" fill="#1a1a1a" stroke="#1a1a1a" stroke-width="0.1" >300</text>
<text x="654.6" y="28.12" font-size="9.0" text-anchor="start" fill="#1a1a1a" stroke="#1a1a1a" stroke-width="0.1" >600</text>
<line x1="488.7" y1="148" x2="491.7" y2="148" stroke="#6e6e6e" stroke-width="0.9" />
<line x1="652.3" y1="148" x2="649.3" y2="148" stroke="#6e6e6e" stroke-width="0.9" />
<line x1="488.7" y1="114.5" x2="491.7" y2="114.5" stroke="#6e6e6e" stroke-width="0.9" />
<line x1="652.3" y1="114.5" x2="649.3" y2="114.5" stroke="#6e6e6e" stroke-width="0.9" />
<line x1="488.7" y1="164.75" x2="490.5" y2="164.75" stroke="#6e6e6e" stroke-width="0.9" />
<line x1="652.3" y1="164.75" x2="650.5" y2="164.75" stroke="#6e6e6e" stroke-width="0.9" />
<line x1="488.7" y1="131.25" x2="490.5" y2="131.25" stroke="#6e6e6e" stroke-width="0.9" />
<line x1="652.3" y1="131.25" x2="650.5" y2="131.25" stroke="#6e6e6e" stroke-width="0.9" />
<text x="486.4" y="117.8" font-size="9.0" text-anchor="end" fill="#1a1a1a" stroke="#1a1a1a" stroke-width="0.1" >0.10</text>
<text x="486.4" y="151.3" font-size="9.0" text-anchor="end" fill="#1a1a1a" stroke="#1a1a1a" stroke-width="0.1" >0.05</text>
<polyline points="508.3,39.4 535.2,32.6 554,28 563.9,27.8 573.5,44.4 583.1,58.2 592.9,71.9 612,84.9 630.9,89.1" fill="none" stroke="#55dd55" stroke-width="0.6" stroke-linejoin="round" />
<polyline points="508.3,44 535.2,37.9 554,33.7 563.9,30.3 573.5,28.9 583.1,19.9 592.9,52 612,71.2 630.9,78.8" fill="none" stroke="#5a5af0" stroke-width="0.6" stroke-linejoin="round" />
<polyline points="508.3,114.5 535.2,114.5 554,114.5 563.9,116 573.5,128 583.1,143.2 592.9,151.6 612,154.8 630.9,153.3" fill="none" stroke="#555" stroke-width="0.6" stroke-linejoin="round" />
<polyline points="508.3,148 535.2,148 554,148 563.9,148 573.5,151.4 583.1,158.3 592.9,168.4 612,168.4 630.9,165.3" fill="none" stroke="#f56060" stroke-width="0.6" stroke-linejoin="round" />
<line x1="508.3" y1="110.3" x2="508.3" y2="118.7" stroke="#8a8a8a" stroke-width="0.6" />
<line x1="535.2" y1="110.3" x2="535.2" y2="118.7" stroke="#8a8a8a" stroke-width="0.6" />
<line x1="554" y1="110.3" x2="554" y2="118.7" stroke="#8a8a8a" stroke-width="0.6" />
<line x1="563.9" y1="111.8" x2="563.9" y2="120.2" stroke="#8a8a8a" stroke-width="0.6" />
<line x1="573.5" y1="123.8" x2="573.5" y2="132.2" stroke="#8a8a8a" stroke-width="0.6" />
<line x1="583.1" y1="139" x2="583.1" y2="147.4" stroke="#8a8a8a" stroke-width="0.6" />
<line x1="592.9" y1="147.4" x2="592.9" y2="155.8" stroke="#8a8a8a" stroke-width="0.6" />
<line x1="612" y1="150.6" x2="612" y2="159" stroke="#8a8a8a" stroke-width="0.6" />
<line x1="630.9" y1="149.1" x2="630.9" y2="157.5" stroke="#8a8a8a" stroke-width="0.6" />
<line x1="508.3" y1="143.8" x2="508.3" y2="152.2" stroke="#8a8a8a" stroke-width="0.6" />
<line x1="535.2" y1="143.8" x2="535.2" y2="152.2" stroke="#8a8a8a" stroke-width="0.6" />
<line x1="554" y1="143.8" x2="554" y2="152.2" stroke="#8a8a8a" stroke-width="0.6" />
<line x1="563.9" y1="143.8" x2="563.9" y2="152.2" stroke="#8a8a8a" stroke-width="0.6" />
<line x1="573.5" y1="147.2" x2="573.5" y2="155.6" stroke="#8a8a8a" stroke-width="0.6" />
<line x1="583.1" y1="154.1" x2="583.1" y2="162.5" stroke="#8a8a8a" stroke-width="0.6" />
<line x1="592.9" y1="164.2" x2="592.9" y2="172.6" stroke="#8a8a8a" stroke-width="0.6" />
<line x1="612" y1="164.2" x2="612" y2="172.6" stroke="#8a8a8a" stroke-width="0.6" />
<line x1="630.9" y1="161.1" x2="630.9" y2="169.5" stroke="#8a8a8a" stroke-width="0.6" />
<circle cx="508.3" cy="39.4" r="2.25" fill="url(#eG)"/>
<circle cx="535.2" cy="32.6" r="2.25" fill="url(#eG)"/>
<circle cx="554" cy="28" r="2.25" fill="url(#eG)"/>
<circle cx="563.9" cy="27.8" r="2.25" fill="url(#eG)"/>
<circle cx="573.5" cy="44.4" r="2.25" fill="url(#eG)"/>
<circle cx="583.1" cy="58.2" r="2.25" fill="url(#eG)"/>
<circle cx="592.9" cy="71.9" r="2.25" fill="url(#eG)"/>
<circle cx="612" cy="84.9" r="2.25" fill="url(#eG)"/>
<circle cx="630.9" cy="89.1" r="2.25" fill="url(#eG)"/>
<circle cx="508.3" cy="44" r="2.25" fill="url(#eB)"/>
<circle cx="535.2" cy="37.9" r="2.25" fill="url(#eB)"/>
<circle cx="554" cy="33.7" r="2.25" fill="url(#eB)"/>
<circle cx="563.9" cy="30.3" r="2.25" fill="url(#eB)"/>
<circle cx="573.5" cy="28.9" r="2.25" fill="url(#eB)"/>
<circle cx="583.1" cy="19.9" r="2.25" fill="url(#eB)"/>
<circle cx="592.9" cy="52" r="2.25" fill="url(#eB)"/>
<circle cx="612" cy="71.2" r="2.25" fill="url(#eB)"/>
<circle cx="630.9" cy="78.8" r="2.25" fill="url(#eB)"/>
<circle cx="508.3" cy="114.5" r="2.25" fill="url(#eK)"/>
<circle cx="535.2" cy="114.5" r="2.25" fill="url(#eK)"/>
<circle cx="554" cy="114.5" r="2.25" fill="url(#eK)"/>
<circle cx="563.9" cy="116" r="2.25" fill="url(#eK)"/>
<circle cx="573.5" cy="128" r="2.25" fill="url(#eK)"/>
<circle cx="583.1" cy="143.2" r="2.25" fill="url(#eK)"/>
<circle cx="592.9" cy="151.6" r="2.25" fill="url(#eK)"/>
<circle cx="612" cy="154.8" r="2.25" fill="url(#eK)"/>
<circle cx="630.9" cy="153.3" r="2.25" fill="url(#eK)"/>
<circle cx="508.3" cy="148" r="2.25" fill="url(#eR)"/>
<circle cx="535.2" cy="148" r="2.25" fill="url(#eR)"/>
<circle cx="554" cy="148" r="2.25" fill="url(#eR)"/>
<circle cx="563.9" cy="148" r="2.25" fill="url(#eR)"/>
<circle cx="573.5" cy="151.4" r="2.25" fill="url(#eR)"/>
<circle cx="583.1" cy="158.3" r="2.25" fill="url(#eR)"/>
<circle cx="592.9" cy="168.4" r="2.25" fill="url(#eR)"/>
<circle cx="612" cy="168.4" r="2.25" fill="url(#eR)"/>
<circle cx="630.9" cy="165.3" r="2.25" fill="url(#eR)"/>
<line x1="552" y1="62.4" x2="532.2" y2="62.4" stroke="#22cc22" stroke-width="1.6" />
<polygon points="527.2,62.4 532.7,59.6 532.7,65.2" fill="#22cc22"/>
<line x1="604.6" y1="40.4" x2="623.9" y2="40.4" stroke="#1a1aee" stroke-width="1.6" />
<polygon points="628.9,40.4 623.4,43.2 623.4,37.6" fill="#1a1aee"/>
<text x="492.3" y="90.6" font-size="12.3" font-weight="bold" fill="#000">(i)</text>
<text x="491.9" y="171.4" font-size="12.3" font-weight="bold" fill="#000">(ii)</text>
<line x1="599.4" y1="107" x2="621.7" y2="107" stroke="#ff8080" stroke-width="0.6" />
<circle cx="610.3" cy="107" r="2.25" fill="url(#eR)"/>
<line x1="599.4" y1="121.6" x2="621.7" y2="121.6" stroke="#888" stroke-width="0.6" />
<circle cx="610.3" cy="121.6" r="2.25" fill="url(#eK)"/>
<text x="623.9" y="111.4" font-size="11" fill="#1a1a1a" stroke="#1a1a1a" stroke-width="0.1">B<tspan font-size="7.2" dy="2.2" dx="0.4">max</tspan></text>
<text x="623.9" y="126.0" font-size="11" fill="#1a1a1a" stroke="#1a1a1a" stroke-width="0.1">B<tspan font-size="8" dy="2.2" dx="0.3">R</tspan></text>
<text transform="translate(462,52) rotate(-90)" font-size="11" text-anchor="middle" fill="#1a1a1a" stroke="#1a1a1a" stroke-width="0.1"><tspan class="serif" font-style="italic" font-size="14">&#951;</tspan><tspan font-size="8.2" dy="1.8" dx="1.6" textLength="11.6" lengthAdjust="spacingAndGlyphs">max</tspan><tspan dy="-1.8" dx="0.6"> (%)</tspan></text>
<text transform="translate(463,139.4) rotate(-90)" font-size="11.8" text-anchor="middle" fill="#1a1a1a" stroke="#1a1a1a" stroke-width="0.1"><tspan font-style="italic">B</tspan><tspan font-size="8" dy="2.2">z</tspan><tspan dy="-2.2"> (T)</tspan></text>
<text transform="translate(684.2,55.0) rotate(-90)" font-size="11" text-anchor="middle" fill="#1a1a1a" stroke="#1a1a1a" stroke-width="0.1"><tspan font-style="italic" font-size="11.5">&#915;</tspan> (T<tspan font-size="7.5" dy="-4">-1</tspan><tspan dy="4">)</tspan></text>
<text x="559.6" y="206.0" font-size="11" fill="#1a1a1a" font-style="italic">T/ T</text>
<text x="580.0" y="208.6" font-size="8.6" fill="#1a1a1a" stroke="#1a1a1a" stroke-width="0.1">c</text>
<text x="579.9" y="201.6" font-size="8.6" fill="#1a1a1a" stroke="#1a1a1a" stroke-width="0.1">S</text>
<text x="459.6" y="221.2" font-size="11.5" font-weight="bold" fill="#000">f</text>
<rect x="487.6" y="236.3" width="162.5" height="165" fill="none" stroke="#6e6e6e" stroke-width="0.9" />
<line x1="504" y1="401.3" x2="504" y2="398.3" stroke="#6e6e6e" stroke-width="0.9" />
<line x1="504" y1="236.3" x2="504" y2="239.3" stroke="#6e6e6e" stroke-width="0.9" />
<line x1="536.5" y1="401.3" x2="536.5" y2="398.3" stroke="#6e6e6e" stroke-width="0.9" />
<line x1="536.5" y1="236.3" x2="536.5" y2="239.3" stroke="#6e6e6e" stroke-width="0.9" />
<line x1="569" y1="401.3" x2="569" y2="398.3" stroke="#6e6e6e" stroke-width="0.9" />
<line x1="569" y1="236.3" x2="569" y2="239.3" stroke="#6e6e6e" stroke-width="0.9" />
<line x1="601.5" y1="401.3" x2="601.5" y2="398.3" stroke="#6e6e6e" stroke-width="0.9" />
<line x1="601.5" y1="236.3" x2="601.5" y2="239.3" stroke="#6e6e6e" stroke-width="0.9" />
<line x1="634" y1="401.3" x2="634" y2="398.3" stroke="#6e6e6e" stroke-width="0.9" />
<line x1="634" y1="236.3" x2="634" y2="239.3" stroke="#6e6e6e" stroke-width="0.9" />
<line x1="520.25" y1="401.3" x2="520.25" y2="399.5" stroke="#6e6e6e" stroke-width="0.9" />
<line x1="520.25" y1="236.3" x2="520.25" y2="238.1" stroke="#6e6e6e" stroke-width="0.9" />
<line x1="552.75" y1="401.3" x2="552.75" y2="399.5" stroke="#6e6e6e" stroke-width="0.9" />
<line x1="552.75" y1="236.3" x2="552.75" y2="238.1" stroke="#6e6e6e" stroke-width="0.9" />
<line x1="585.25" y1="401.3" x2="585.25" y2="399.5" stroke="#6e6e6e" stroke-width="0.9" />
<line x1="585.25" y1="236.3" x2="585.25" y2="238.1" stroke="#6e6e6e" stroke-width="0.9" />
<line x1="617.75" y1="401.3" x2="617.75" y2="399.5" stroke="#6e6e6e" stroke-width="0.9" />
<line x1="617.75" y1="236.3" x2="617.75" y2="238.1" stroke="#6e6e6e" stroke-width="0.9" />
<text x="504" y="411.9" font-size="9.0" text-anchor="middle" fill="#1a1a1a" stroke="#1a1a1a" stroke-width="0.1" >-0.2</text>
<text x="536.5" y="411.9" font-size="9.0" text-anchor="middle" fill="#1a1a1a" stroke="#1a1a1a" stroke-width="0.1" >-0.1</text>
<text x="569" y="411.9" font-size="9.0" text-anchor="middle" fill="#1a1a1a" stroke="#1a1a1a" stroke-width="0.1" >0.0</text>
<text x="601.5" y="411.9" font-size="9.0" text-anchor="middle" fill="#1a1a1a" stroke="#1a1a1a" stroke-width="0.1" >0.1</text>
<text x="634" y="411.9" font-size="9.0" text-anchor="middle" fill="#1a1a1a" stroke="#1a1a1a" stroke-width="0.1" >0.2</text>
<line x1="487.6" y1="249.3" x2="489.8" y2="249.3" stroke="#6e6e6e" stroke-width="0.9" />
<line x1="650.1" y1="249.3" x2="647.9" y2="249.3" stroke="#6e6e6e" stroke-width="0.9" />
<line x1="487.6" y1="262.9" x2="489.8" y2="262.9" stroke="#6e6e6e" stroke-width="0.9" />
<line x1="650.1" y1="262.9" x2="647.9" y2="262.9" stroke="#6e6e6e" stroke-width="0.9" />
<line x1="487.6" y1="276.5" x2="489.8" y2="276.5" stroke="#6e6e6e" stroke-width="0.9" />
<line x1="650.1" y1="276.5" x2="647.9" y2="276.5" stroke="#6e6e6e" stroke-width="0.9" />
<line x1="487.6" y1="290.1" x2="489.8" y2="290.1" stroke="#6e6e6e" stroke-width="0.9" />
<line x1="650.1" y1="290.1" x2="647.9" y2="290.1" stroke="#6e6e6e" stroke-width="0.9" />
<line x1="487.6" y1="303.7" x2="489.8" y2="303.7" stroke="#6e6e6e" stroke-width="0.9" />
<line x1="650.1" y1="303.7" x2="647.9" y2="303.7" stroke="#6e6e6e" stroke-width="0.9" />
<line x1="487.6" y1="317.3" x2="489.8" y2="317.3" stroke="#6e6e6e" stroke-width="0.9" />
<line x1="650.1" y1="317.3" x2="647.9" y2="317.3" stroke="#6e6e6e" stroke-width="0.9" />
<line x1="487.6" y1="330.9" x2="489.8" y2="330.9" stroke="#6e6e6e" stroke-width="0.9" />
<line x1="650.1" y1="330.9" x2="647.9" y2="330.9" stroke="#6e6e6e" stroke-width="0.9" />
<line x1="487.6" y1="344.5" x2="489.8" y2="344.5" stroke="#6e6e6e" stroke-width="0.9" />
<line x1="650.1" y1="344.5" x2="647.9" y2="344.5" stroke="#6e6e6e" stroke-width="0.9" />
<line x1="487.6" y1="358.1" x2="489.8" y2="358.1" stroke="#6e6e6e" stroke-width="0.9" />
<line x1="650.1" y1="358.1" x2="647.9" y2="358.1" stroke="#6e6e6e" stroke-width="0.9" />
<line x1="487.6" y1="371.7" x2="489.8" y2="371.7" stroke="#6e6e6e" stroke-width="0.9" />
<line x1="650.1" y1="371.7" x2="647.9" y2="371.7" stroke="#6e6e6e" stroke-width="0.9" />
<line x1="487.6" y1="385.3" x2="489.8" y2="385.3" stroke="#6e6e6e" stroke-width="0.9" />
<line x1="650.1" y1="385.3" x2="647.9" y2="385.3" stroke="#6e6e6e" stroke-width="0.9" />
<line x1="487.6" y1="398.9" x2="489.8" y2="398.9" stroke="#6e6e6e" stroke-width="0.9" />
<line x1="650.1" y1="398.9" x2="647.9" y2="398.9" stroke="#6e6e6e" stroke-width="0.9" />
<line x1="569" y1="236.3" x2="569" y2="401.3" stroke="#8a8a8a" stroke-width="1.4" />
<polyline points="407.3,264.1 437.8,264.1 437.8,256.4 650.1,256.4" fill="none" stroke="#ff2a36" stroke-width="1.1" stroke-dasharray="3.1,2.0"/>
<polyline points="407.3,284.7 450.3,284.7 450.3,289.7 650.1,289.7" fill="none" stroke="#f29a5a" stroke-width="1.1" stroke-dasharray="3.1,2.0"/>
<polyline points="407.3,326.7 458.3,326.7 458.3,322.4 650.1,322.4" fill="none" stroke="#33cc33" stroke-width="1.1" stroke-dasharray="3.1,2.0"/>
<polyline points="408.8,368.9 466.1,368.9 466.1,359.3 650.1,359.3" fill="none" stroke="#7a7af0" stroke-width="1.1" stroke-dasharray="3.1,2.0"/>
<polyline points="488.1,250.5 495.5,251 503.4,251 511.8,249.9 520.2,249.3 528,250.1 536.4,250.5 539.1,249.3 541.6,249.9 544.7,250.5 547.5,251 550,251.6 552.5,254.7 555.2,257.3 558.4,259.8 561.5,258.9 564.7,256.8 567.2,256.4 569.9,256.8 572.6,256 575.5,254.1 578.6,253.1 581.4,255.2 584.3,258.3 588.1,261.9 591.2,261.9 594.8,261.9 597.5,263.5 601.1,261.9 609,261.4 617.4,263.1 625.8,263.1 634.2,262.5 642.1,262.1 649.3,262.5" fill="none" stroke="#ff7a80" stroke-width="0.6" stroke-linejoin="round" />
<polyline points="488.1,286.6 495.5,284.1 503.4,283.5 511.8,280.3 520.2,280.3 528,280.3 536.4,279.9 539.1,279.5 541.6,279.5 544.7,279.5 547.5,279.1 550,283.5 552.5,287.7 555.2,291.2 558,293.9 560.5,296 563,297.1 565.7,296.7 567.8,290.8 569.9,286.6 572.5,285.6 575.5,284.1 578.5,286.4 581.2,289.7 584,292.9 588.1,301.3 591.2,302.3 594.8,303.4 597.5,302.3 601.1,301.9 609,301.3 617.4,303 625.8,301.3 634.2,299.6 642.1,297.5 649.3,296.7" fill="none" stroke="#f4a66e" stroke-width="0.6" stroke-linejoin="round" />
<polyline points="487.8,322.1 495.5,321.4 503.6,316.3 511.8,314.5 520,317 528.1,316.8 536.3,322.8 539.8,325.6 542.8,325.2 546.1,335 549.1,337.3 552.6,350.1 555.6,351.7 559.1,347.8 562.4,340.1 565.4,333.1 568.7,322.1 572.2,316.8 575.4,309.3 578.8,300.7 581.4,298.1 584.9,296.7 588.4,314.2 591.8,323.3 594.8,325.2 598.1,326.8 601.1,331.5 609.3,333.1 617.4,334.5 625.6,334.5 633.8,333.8 641.9,330.3 649.4,329.8" fill="none" stroke="#5ed65e" stroke-width="0.6" stroke-linejoin="round" />
<polyline points="487.8,357.1 495.5,355.9 503.6,350.1 511.8,348.5 520,351.7 528.1,350.8 536.3,362.5 539.8,370.4 542.8,369.5 546.1,387.4 549.1,395.1 552.6,395.1 555.6,386.2 559.1,379.3 562.4,369.9 565.4,364.8 568.7,359.4 572.2,354.1 575.4,340.1 578.6,342.2 581.5,329.5 584.5,328 588.3,329.1 591.8,336.8 594.8,346.6 598.1,350.8 601.1,361.8 609.3,369.5 617.4,369.5 625.6,370.4 633.8,369 641.9,365.3 649.4,363.4" fill="none" stroke="#6a6af0" stroke-width="0.6" stroke-linejoin="round" />
<circle cx="488.1" cy="250.5" r="2.0" fill="url(#fR)"/>
<circle cx="495.5" cy="251" r="2.0" fill="url(#fR)"/>
<circle cx="503.4" cy="251" r="2.0" fill="url(#fR)"/>
<circle cx="511.8" cy="249.9" r="2.0" fill="url(#fR)"/>
<circle cx="520.2" cy="249.3" r="2.0" fill="url(#fR)"/>
<circle cx="528" cy="250.1" r="2.0" fill="url(#fR)"/>
<circle cx="536.4" cy="250.5" r="2.0" fill="url(#fR)"/>
<circle cx="539.1" cy="249.3" r="2.0" fill="url(#fR)"/>
<circle cx="541.6" cy="249.9" r="2.0" fill="url(#fR)"/>
<circle cx="544.7" cy="250.5" r="2.0" fill="url(#fR)"/>
<circle cx="547.5" cy="251" r="2.0" fill="url(#fR)"/>
<circle cx="550" cy="251.6" r="2.0" fill="url(#fR)"/>
<circle cx="552.5" cy="254.7" r="2.0" fill="url(#fR)"/>
<circle cx="555.2" cy="257.3" r="2.0" fill="url(#fR)"/>
<circle cx="558.4" cy="259.8" r="2.0" fill="url(#fR)"/>
<circle cx="561.5" cy="258.9" r="2.0" fill="url(#fR)"/>
<circle cx="564.7" cy="256.8" r="2.0" fill="url(#fR)"/>
<circle cx="567.2" cy="256.4" r="2.0" fill="url(#fR)"/>
<circle cx="569.9" cy="256.8" r="2.0" fill="url(#fR)"/>
<circle cx="572.6" cy="256" r="2.0" fill="url(#fR)"/>
<circle cx="575.5" cy="254.1" r="2.0" fill="url(#fR)"/>
<circle cx="578.6" cy="253.1" r="2.0" fill="url(#fR)"/>
<circle cx="581.4" cy="255.2" r="2.0" fill="url(#fR)"/>
<circle cx="584.3" cy="258.3" r="2.0" fill="url(#fR)"/>
<circle cx="588.1" cy="261.9" r="2.0" fill="url(#fR)"/>
<circle cx="591.2" cy="261.9" r="2.0" fill="url(#fR)"/>
<circle cx="594.8" cy="261.9" r="2.0" fill="url(#fR)"/>
<circle cx="597.5" cy="263.5" r="2.0" fill="url(#fR)"/>
<circle cx="601.1" cy="261.9" r="2.0" fill="url(#fR)"/>
<circle cx="609" cy="261.4" r="2.0" fill="url(#fR)"/>
<circle cx="617.4" cy="263.1" r="2.0" fill="url(#fR)"/>
<circle cx="625.8" cy="263.1" r="2.0" fill="url(#fR)"/>
<circle cx="634.2" cy="262.5" r="2.0" fill="url(#fR)"/>
<circle cx="642.1" cy="262.1" r="2.0" fill="url(#fR)"/>
<circle cx="649.3" cy="262.5" r="2.0" fill="url(#fR)"/>
<circle cx="488.1" cy="286.6" r="2.0" fill="url(#fO)"/>
<circle cx="495.5" cy="284.1" r="2.0" fill="url(#fO)"/>
<circle cx="503.4" cy="283.5" r="2.0" fill="url(#fO)"/>
<circle cx="511.8" cy="280.3" r="2.0" fill="url(#fO)"/>
<circle cx="520.2" cy="280.3" r="2.0" fill="url(#fO)"/>
<circle cx="528" cy="280.3" r="2.0" fill="url(#fO)"/>
<circle cx="536.4" cy="279.9" r="2.0" fill="url(#fO)"/>
<circle cx="539.1" cy="279.5" r="2.0" fill="url(#fO)"/>
<circle cx="541.6" cy="279.5" r="2.0" fill="url(#fO)"/>
<circle cx="544.7" cy="279.5" r="2.0" fill="url(#fO)"/>
<circle cx="547.5" cy="279.1" r="2.0" fill="url(#fO)"/>
<circle cx="550" cy="283.5" r="2.0" fill="url(#fO)"/>
<circle cx="552.5" cy="287.7" r="2.0" fill="url(#fO)"/>
<circle cx="555.2" cy="291.2" r="2.0" fill="url(#fO)"/>
<circle cx="558" cy="293.9" r="2.0" fill="url(#fO)"/>
<circle cx="560.5" cy="296" r="2.0" fill="url(#fO)"/>
<circle cx="563" cy="297.1" r="2.0" fill="url(#fO)"/>
<circle cx="565.7" cy="296.7" r="2.0" fill="url(#fO)"/>
<circle cx="567.8" cy="290.8" r="2.0" fill="url(#fO)"/>
<circle cx="569.9" cy="286.6" r="2.0" fill="url(#fO)"/>
<circle cx="572.5" cy="285.6" r="2.0" fill="url(#fO)"/>
<circle cx="575.5" cy="284.1" r="2.0" fill="url(#fO)"/>
<circle cx="578.5" cy="286.4" r="2.0" fill="url(#fO)"/>
<circle cx="581.2" cy="289.7" r="2.0" fill="url(#fO)"/>
<circle cx="584" cy="292.9" r="2.0" fill="url(#fO)"/>
<circle cx="588.1" cy="301.3" r="2.0" fill="url(#fO)"/>
<circle cx="591.2" cy="302.3" r="2.0" fill="url(#fO)"/>
<circle cx="594.8" cy="303.4" r="2.0" fill="url(#fO)"/>
<circle cx="597.5" cy="302.3" r="2.0" fill="url(#fO)"/>
<circle cx="601.1" cy="301.9" r="2.0" fill="url(#fO)"/>
<circle cx="609" cy="301.3" r="2.0" fill="url(#fO)"/>
<circle cx="617.4" cy="303" r="2.0" fill="url(#fO)"/>
<circle cx="625.8" cy="301.3" r="2.0" fill="url(#fO)"/>
<circle cx="634.2" cy="299.6" r="2.0" fill="url(#fO)"/>
<circle cx="642.1" cy="297.5" r="2.0" fill="url(#fO)"/>
<circle cx="649.3" cy="296.7" r="2.0" fill="url(#fO)"/>
<circle cx="487.8" cy="322.1" r="2.0" fill="url(#fG)"/>
<circle cx="495.5" cy="321.4" r="2.0" fill="url(#fG)"/>
<circle cx="503.6" cy="316.3" r="2.0" fill="url(#fG)"/>
<circle cx="511.8" cy="314.5" r="2.0" fill="url(#fG)"/>
<circle cx="520" cy="317" r="2.0" fill="url(#fG)"/>
<circle cx="528.1" cy="316.8" r="2.0" fill="url(#fG)"/>
<circle cx="536.3" cy="322.8" r="2.0" fill="url(#fG)"/>
<circle cx="539.8" cy="325.6" r="2.0" fill="url(#fG)"/>
<circle cx="542.8" cy="325.2" r="2.0" fill="url(#fG)"/>
<circle cx="546.1" cy="335" r="2.0" fill="url(#fG)"/>
<circle cx="549.1" cy="337.3" r="2.0" fill="url(#fG)"/>
<circle cx="552.6" cy="350.1" r="2.0" fill="url(#fG)"/>
<circle cx="555.6" cy="351.7" r="2.0" fill="url(#fG)"/>
<circle cx="559.1" cy="347.8" r="2.0" fill="url(#fG)"/>
<circle cx="562.4" cy="340.1" r="2.0" fill="url(#fG)"/>
<circle cx="565.4" cy="333.1" r="2.0" fill="url(#fG)"/>
<circle cx="568.7" cy="322.1" r="2.0" fill="url(#fG)"/>
<circle cx="572.2" cy="316.8" r="2.0" fill="url(#fG)"/>
<circle cx="575.4" cy="309.3" r="2.0" fill="url(#fG)"/>
<circle cx="578.8" cy="300.7" r="2.0" fill="url(#fG)"/>
<circle cx="581.4" cy="298.1" r="2.0" fill="url(#fG)"/>
<circle cx="584.9" cy="296.7" r="2.0" fill="url(#fG)"/>
<circle cx="588.4" cy="314.2" r="2.0" fill="url(#fG)"/>
<circle cx="591.8" cy="323.3" r="2.0" fill="url(#fG)"/>
<circle cx="594.8" cy="325.2" r="2.0" fill="url(#fG)"/>
<circle cx="598.1" cy="326.8" r="2.0" fill="url(#fG)"/>
<circle cx="601.1" cy="331.5" r="2.0" fill="url(#fG)"/>
<circle cx="609.3" cy="333.1" r="2.0" fill="url(#fG)"/>
<circle cx="617.4" cy="334.5" r="2.0" fill="url(#fG)"/>
<circle cx="625.6" cy="334.5" r="2.0" fill="url(#fG)"/>
<circle cx="633.8" cy="333.8" r="2.0" fill="url(#fG)"/>
<circle cx="641.9" cy="330.3" r="2.0" fill="url(#fG)"/>
<circle cx="649.4" cy="329.8" r="2.0" fill="url(#fG)"/>
<circle cx="487.8" cy="357.1" r="2.0" fill="url(#fB)"/>
<circle cx="495.5" cy="355.9" r="2.0" fill="url(#fB)"/>
<circle cx="503.6" cy="350.1" r="2.0" fill="url(#fB)"/>
<circle cx="511.8" cy="348.5" r="2.0" fill="url(#fB)"/>
<circle cx="520" cy="351.7" r="2.0" fill="url(#fB)"/>
<circle cx="528.1" cy="350.8" r="2.0" fill="url(#fB)"/>
<circle cx="536.3" cy="362.5" r="2.0" fill="url(#fB)"/>
<circle cx="539.8" cy="370.4" r="2.0" fill="url(#fB)"/>
<circle cx="542.8" cy="369.5" r="2.0" fill="url(#fB)"/>
<circle cx="546.1" cy="387.4" r="2.0" fill="url(#fB)"/>
<circle cx="549.1" cy="395.1" r="2.0" fill="url(#fB)"/>
<circle cx="552.6" cy="395.1" r="2.0" fill="url(#fB)"/>
<circle cx="555.6" cy="386.2" r="2.0" fill="url(#fB)"/>
<circle cx="559.1" cy="379.3" r="2.0" fill="url(#fB)"/>
<circle cx="562.4" cy="369.9" r="2.0" fill="url(#fB)"/>
<circle cx="565.4" cy="364.8" r="2.0" fill="url(#fB)"/>
<circle cx="568.7" cy="359.4" r="2.0" fill="url(#fB)"/>
<circle cx="572.2" cy="354.1" r="2.0" fill="url(#fB)"/>
<circle cx="575.4" cy="340.1" r="2.0" fill="url(#fB)"/>
<circle cx="578.6" cy="342.2" r="2.0" fill="url(#fB)"/>
<circle cx="581.5" cy="329.5" r="2.0" fill="url(#fB)"/>
<circle cx="584.5" cy="328" r="2.0" fill="url(#fB)"/>
<circle cx="588.3" cy="329.1" r="2.0" fill="url(#fB)"/>
<circle cx="591.8" cy="336.8" r="2.0" fill="url(#fB)"/>
<circle cx="594.8" cy="346.6" r="2.0" fill="url(#fB)"/>
<circle cx="598.1" cy="350.8" r="2.0" fill="url(#fB)"/>
<circle cx="601.1" cy="361.8" r="2.0" fill="url(#fB)"/>
<circle cx="609.3" cy="369.5" r="2.0" fill="url(#fB)"/>
<circle cx="617.4" cy="369.5" r="2.0" fill="url(#fB)"/>
<circle cx="625.6" cy="370.4" r="2.0" fill="url(#fB)"/>
<circle cx="633.8" cy="369" r="2.0" fill="url(#fB)"/>
<circle cx="641.9" cy="365.3" r="2.0" fill="url(#fB)"/>
<circle cx="649.4" cy="363.4" r="2.0" fill="url(#fB)"/>
<line x1="491.3" y1="256.2" x2="491.3" y2="289.7" stroke="#111" stroke-width="1.3" />
<text x="495.8" y="275.1" font-size="10.6" text-anchor="start" fill="#1a1a1a" stroke="#1a1a1a" stroke-width="0.1" >25&#8201;%</text>
<text x="622.0" y="251.4" font-size="10.5" fill="#1a1a1a" stroke="#1a1a1a" stroke-width="0.1"><tspan font-style="italic">T</tspan> (K)</text>
<text x="626.6" y="284.1" font-size="10.5" text-anchor="start" fill="#f03a3a" stroke="#f03a3a" stroke-width="0.1" >3.5</text>
<text x="629.4" y="318.2" font-size="10.5" text-anchor="start" fill="#f08a3a" stroke="#f08a3a" stroke-width="0.1" >3</text>
<text x="629.6" y="351.7" font-size="10.5" text-anchor="start" fill="#22bb22" stroke="#22bb22" stroke-width="0.1" >2</text>
<text x="630" y="386.2" font-size="10.5" text-anchor="start" fill="#3a3ae0" stroke="#3a3ae0" stroke-width="0.1" >1</text>
<text transform="translate(480.6,318.4) rotate(-90)" font-size="11" text-anchor="middle" fill="#1a1a1a" stroke="#1a1a1a" stroke-width="0.1"><tspan class="serif" font-style="italic" font-size="12">&#951;</tspan> (%)</text>
<text x="558.0" y="426.0" font-size="11" fill="#1a1a1a" stroke="#1a1a1a" stroke-width="0.1"><tspan font-style="italic">B</tspan><tspan font-size="7.5" dy="2.2">z</tspan><tspan dy="-2.2"> (T)</tspan></text>
</svg></body></html>
